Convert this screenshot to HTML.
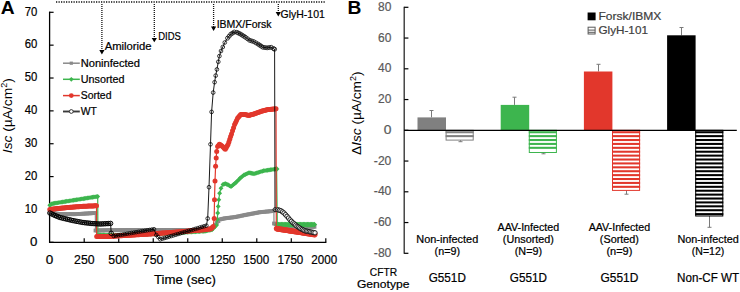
<!DOCTYPE html>
<html><head><meta charset="utf-8"><style>
html,body{margin:0;padding:0;background:#fff;}
body{width:740px;height:292px;overflow:hidden;}
svg{display:block;font-family:"Liberation Sans", sans-serif;}
</style></head><body>
<svg width="740" height="292" viewBox="0 0 740 292" font-family='"Liberation Sans", sans-serif'>
<rect width="740" height="292" fill="#fff"/>
<text x="0.75" y="13.90" font-size="18.2" fill="#000" font-weight="bold" font-style="normal" text-anchor="start" stroke="#000" stroke-width="0" textLength="13.90" lengthAdjust="spacingAndGlyphs">A</text>
<line x1="49.6" y1="11.6" x2="49.6" y2="242.9" stroke="#000" stroke-width="1.3"/>
<line x1="49.0" y1="242.3" x2="326.4" y2="242.3" stroke="#000" stroke-width="1.3"/>
<line x1="49.6" y1="242.30" x2="53.6" y2="242.30" stroke="#000" stroke-width="1.2"/>
<text x="29.95" y="245.60" font-size="12.4" fill="#000" font-weight="normal" font-style="normal" text-anchor="start" stroke="#000" stroke-width="0.2" textLength="7.40" lengthAdjust="spacingAndGlyphs">0</text>
<line x1="49.6" y1="209.44" x2="53.6" y2="209.44" stroke="#000" stroke-width="1.2"/>
<text x="24.75" y="212.74" font-size="12.4" fill="#000" font-weight="normal" font-style="normal" text-anchor="start" stroke="#000" stroke-width="0.2" textLength="12.60" lengthAdjust="spacingAndGlyphs">10</text>
<line x1="49.6" y1="176.59" x2="53.6" y2="176.59" stroke="#000" stroke-width="1.2"/>
<text x="24.75" y="179.89" font-size="12.4" fill="#000" font-weight="normal" font-style="normal" text-anchor="start" stroke="#000" stroke-width="0.2" textLength="12.60" lengthAdjust="spacingAndGlyphs">20</text>
<line x1="49.6" y1="143.73" x2="53.6" y2="143.73" stroke="#000" stroke-width="1.2"/>
<text x="24.75" y="147.03" font-size="12.4" fill="#000" font-weight="normal" font-style="normal" text-anchor="start" stroke="#000" stroke-width="0.2" textLength="12.60" lengthAdjust="spacingAndGlyphs">30</text>
<line x1="49.6" y1="110.87" x2="53.6" y2="110.87" stroke="#000" stroke-width="1.2"/>
<text x="24.75" y="114.17" font-size="12.4" fill="#000" font-weight="normal" font-style="normal" text-anchor="start" stroke="#000" stroke-width="0.2" textLength="12.60" lengthAdjust="spacingAndGlyphs">40</text>
<line x1="49.6" y1="78.02" x2="53.6" y2="78.02" stroke="#000" stroke-width="1.2"/>
<text x="24.75" y="81.32" font-size="12.4" fill="#000" font-weight="normal" font-style="normal" text-anchor="start" stroke="#000" stroke-width="0.2" textLength="12.60" lengthAdjust="spacingAndGlyphs">50</text>
<line x1="49.6" y1="45.16" x2="53.6" y2="45.16" stroke="#000" stroke-width="1.2"/>
<text x="24.75" y="48.46" font-size="12.4" fill="#000" font-weight="normal" font-style="normal" text-anchor="start" stroke="#000" stroke-width="0.2" textLength="12.60" lengthAdjust="spacingAndGlyphs">60</text>
<line x1="49.6" y1="12.30" x2="53.6" y2="12.30" stroke="#000" stroke-width="1.2"/>
<text x="24.75" y="15.60" font-size="12.4" fill="#000" font-weight="normal" font-style="normal" text-anchor="start" stroke="#000" stroke-width="0.2" textLength="12.60" lengthAdjust="spacingAndGlyphs">70</text>
<text x="45.75" y="263.70" font-size="12.3" fill="#000" font-weight="normal" font-style="normal" text-anchor="start" stroke="#000" stroke-width="0.2" textLength="7.50" lengthAdjust="spacingAndGlyphs">0</text>
<line x1="84.21" y1="238.3" x2="84.21" y2="242.3" stroke="#000" stroke-width="1.2"/>
<text x="74.10" y="263.70" font-size="12.3" fill="#000" font-weight="normal" font-style="normal" text-anchor="start" stroke="#000" stroke-width="0.2" textLength="20.50" lengthAdjust="spacingAndGlyphs">250</text>
<line x1="118.73" y1="238.3" x2="118.73" y2="242.3" stroke="#000" stroke-width="1.2"/>
<text x="108.35" y="263.70" font-size="12.3" fill="#000" font-weight="normal" font-style="normal" text-anchor="start" stroke="#000" stroke-width="0.2" textLength="20.50" lengthAdjust="spacingAndGlyphs">500</text>
<line x1="153.24" y1="238.3" x2="153.24" y2="242.3" stroke="#000" stroke-width="1.2"/>
<text x="142.85" y="263.70" font-size="12.3" fill="#000" font-weight="normal" font-style="normal" text-anchor="start" stroke="#000" stroke-width="0.2" textLength="20.50" lengthAdjust="spacingAndGlyphs">750</text>
<line x1="187.75" y1="238.3" x2="187.75" y2="242.3" stroke="#000" stroke-width="1.2"/>
<text x="174.35" y="263.70" font-size="12.3" fill="#000" font-weight="normal" font-style="normal" text-anchor="start" stroke="#000" stroke-width="0.2" textLength="25.90" lengthAdjust="spacingAndGlyphs">1000</text>
<line x1="222.26" y1="238.3" x2="222.26" y2="242.3" stroke="#000" stroke-width="1.2"/>
<text x="209.45" y="263.70" font-size="12.3" fill="#000" font-weight="normal" font-style="normal" text-anchor="start" stroke="#000" stroke-width="0.2" textLength="25.90" lengthAdjust="spacingAndGlyphs">1250</text>
<line x1="256.78" y1="238.3" x2="256.78" y2="242.3" stroke="#000" stroke-width="1.2"/>
<text x="243.25" y="263.70" font-size="12.3" fill="#000" font-weight="normal" font-style="normal" text-anchor="start" stroke="#000" stroke-width="0.2" textLength="25.90" lengthAdjust="spacingAndGlyphs">1500</text>
<line x1="291.29" y1="238.3" x2="291.29" y2="242.3" stroke="#000" stroke-width="1.2"/>
<text x="277.45" y="263.70" font-size="12.3" fill="#000" font-weight="normal" font-style="normal" text-anchor="start" stroke="#000" stroke-width="0.2" textLength="25.90" lengthAdjust="spacingAndGlyphs">1750</text>
<line x1="325.80" y1="238.3" x2="325.80" y2="242.3" stroke="#000" stroke-width="1.2"/>
<text x="311.25" y="263.70" font-size="12.3" fill="#000" font-weight="normal" font-style="normal" text-anchor="start" stroke="#000" stroke-width="0.2" textLength="25.90" lengthAdjust="spacingAndGlyphs">2000</text>
<text x="154.00" y="283.80" font-size="12.5" fill="#000" font-weight="normal" font-style="normal" text-anchor="start" stroke="#000" stroke-width="0.2" textLength="62.00" lengthAdjust="spacingAndGlyphs">Time (sec)</text>
<g transform="translate(11.6,115.6) rotate(-90)"><text x="-37.6" y="0" font-size="13.0" textLength="75" lengthAdjust="spacingAndGlyphs"><tspan font-style="italic">Isc</tspan> (µA/cm<tspan font-size="8.5" dy="-4.5">2</tspan><tspan dy="4.5">)</tspan></text></g>
<line x1="56" y1="2.0" x2="326" y2="2.0" stroke="#111" stroke-width="1.5" stroke-dasharray="1.25 1.25"/>
<line x1="101.9" y1="4" x2="101.9" y2="50.9" stroke="#111" stroke-width="1.3" stroke-dasharray="1.1 0.9"/>
<path d="M99.30000000000001,50.0 L104.5,50.0 L101.9,54.4 Z" fill="#000"/>
<line x1="154.3" y1="4" x2="154.3" y2="38.8" stroke="#111" stroke-width="1.3" stroke-dasharray="1.1 0.9"/>
<path d="M151.70000000000002,37.9 L156.9,37.9 L154.3,42.3 Z" fill="#000"/>
<line x1="213.6" y1="4" x2="213.6" y2="27.5" stroke="#111" stroke-width="1.3" stroke-dasharray="1.1 0.9"/>
<path d="M211.0,26.6 L216.2,26.6 L213.6,31.0 Z" fill="#000"/>
<line x1="278.3" y1="4" x2="278.3" y2="13.0" stroke="#111" stroke-width="1.3" stroke-dasharray="1.1 0.9"/>
<path d="M275.7,12.1 L280.90000000000003,12.1 L278.3,16.5 Z" fill="#000"/>
<text x="104.65" y="50.30" font-size="10.3" fill="#000" font-weight="normal" font-style="normal" text-anchor="start" stroke="#000" stroke-width="0.2" textLength="46.90" lengthAdjust="spacingAndGlyphs">Amiloride</text>
<text x="158.15" y="39.80" font-size="10.3" fill="#000" font-weight="normal" font-style="normal" text-anchor="start" stroke="#000" stroke-width="0.2" textLength="22.70" lengthAdjust="spacingAndGlyphs">DIDS</text>
<text x="216.65" y="27.60" font-size="10.3" fill="#000" font-weight="normal" font-style="normal" text-anchor="start" stroke="#000" stroke-width="0.2" textLength="54.90" lengthAdjust="spacingAndGlyphs">IBMX/Forsk</text>
<text x="280.55" y="17.70" font-size="10.3" fill="#000" font-weight="normal" font-style="normal" text-anchor="start" stroke="#000" stroke-width="0.2" textLength="44.30" lengthAdjust="spacingAndGlyphs">GlyH-101</text>
<line x1="63" y1="63.2" x2="79.8" y2="63.2" stroke="#8a8a8a" stroke-width="1.5"/>
<rect x="69.7" y="61.6" width="3.2" height="3.2" fill="#8a8a8a"/>
<text x="80.75" y="66.70" font-size="10.0" fill="#000" font-weight="normal" font-style="normal" text-anchor="start" stroke="#000" stroke-width="0.2" textLength="59.20" lengthAdjust="spacingAndGlyphs">Noninfected</text>
<line x1="63" y1="79.3" x2="79.8" y2="79.3" stroke="#3db54e" stroke-width="1.5"/>
<path d="M71.3,76.89999999999999 L73.7,79.3 L71.3,81.7 L68.89999999999999,79.3 Z" fill="#3db54e"/>
<text x="80.75" y="82.80" font-size="10.0" fill="#000" font-weight="normal" font-style="normal" text-anchor="start" stroke="#000" stroke-width="0.2" textLength="43.80" lengthAdjust="spacingAndGlyphs">Unsorted</text>
<line x1="63" y1="95.6" x2="79.8" y2="95.6" stroke="#e2372c" stroke-width="1.5"/>
<circle cx="71.3" cy="95.6" r="2.4" fill="#e2372c"/>
<text x="80.75" y="99.10" font-size="10.0" fill="#000" font-weight="normal" font-style="normal" text-anchor="start" stroke="#000" stroke-width="0.2" textLength="30.70" lengthAdjust="spacingAndGlyphs">Sorted</text>
<line x1="63" y1="111.5" x2="79.8" y2="111.5" stroke="#3a3a3a" stroke-width="1.9"/>
<circle cx="71.3" cy="111.5" r="1.9" fill="#fff" stroke="#222" stroke-width="0.9"/>
<text x="80.75" y="115.00" font-size="10.0" fill="#000" font-weight="normal" font-style="normal" text-anchor="start" stroke="#000" stroke-width="0.2" textLength="16.10" lengthAdjust="spacingAndGlyphs">WT</text>
<polyline points="49.80,212.50 60.00,214.10 75.00,214.20 95.30,213.00 95.50,230.50 110.00,230.20 140.00,230.00 205.00,230.00 212.00,228.50 215.30,224.70 220.00,219.40 225.00,218.30 235.00,217.10 245.00,215.00 260.00,212.20 273.90,210.90 274.00,223.50 280.00,226.30 314.50,226.80" fill="none" stroke="#8a8a8a" stroke-width="1.2" stroke-linejoin="round"/>
<rect x="47.90" y="210.60" width="3.8" height="3.8" fill="#8a8a8a"/>
<rect x="49.36" y="210.83" width="3.8" height="3.8" fill="#8a8a8a"/>
<rect x="50.81" y="211.06" width="3.8" height="3.8" fill="#8a8a8a"/>
<rect x="52.27" y="211.29" width="3.8" height="3.8" fill="#8a8a8a"/>
<rect x="53.73" y="211.51" width="3.8" height="3.8" fill="#8a8a8a"/>
<rect x="55.19" y="211.74" width="3.8" height="3.8" fill="#8a8a8a"/>
<rect x="56.64" y="211.97" width="3.8" height="3.8" fill="#8a8a8a"/>
<rect x="58.10" y="212.20" width="3.8" height="3.8" fill="#8a8a8a"/>
<rect x="59.46" y="212.21" width="3.8" height="3.8" fill="#8a8a8a"/>
<rect x="60.83" y="212.22" width="3.8" height="3.8" fill="#8a8a8a"/>
<rect x="62.19" y="212.23" width="3.8" height="3.8" fill="#8a8a8a"/>
<rect x="63.55" y="212.24" width="3.8" height="3.8" fill="#8a8a8a"/>
<rect x="64.92" y="212.25" width="3.8" height="3.8" fill="#8a8a8a"/>
<rect x="66.28" y="212.25" width="3.8" height="3.8" fill="#8a8a8a"/>
<rect x="67.65" y="212.26" width="3.8" height="3.8" fill="#8a8a8a"/>
<rect x="69.01" y="212.27" width="3.8" height="3.8" fill="#8a8a8a"/>
<rect x="70.37" y="212.28" width="3.8" height="3.8" fill="#8a8a8a"/>
<rect x="71.74" y="212.29" width="3.8" height="3.8" fill="#8a8a8a"/>
<rect x="73.10" y="212.30" width="3.8" height="3.8" fill="#8a8a8a"/>
<rect x="74.45" y="212.22" width="3.8" height="3.8" fill="#8a8a8a"/>
<rect x="75.81" y="212.14" width="3.8" height="3.8" fill="#8a8a8a"/>
<rect x="77.16" y="212.06" width="3.8" height="3.8" fill="#8a8a8a"/>
<rect x="78.51" y="211.98" width="3.8" height="3.8" fill="#8a8a8a"/>
<rect x="79.87" y="211.90" width="3.8" height="3.8" fill="#8a8a8a"/>
<rect x="81.22" y="211.82" width="3.8" height="3.8" fill="#8a8a8a"/>
<rect x="82.57" y="211.74" width="3.8" height="3.8" fill="#8a8a8a"/>
<rect x="83.93" y="211.66" width="3.8" height="3.8" fill="#8a8a8a"/>
<rect x="85.28" y="211.58" width="3.8" height="3.8" fill="#8a8a8a"/>
<rect x="86.63" y="211.50" width="3.8" height="3.8" fill="#8a8a8a"/>
<rect x="87.99" y="211.42" width="3.8" height="3.8" fill="#8a8a8a"/>
<rect x="89.34" y="211.34" width="3.8" height="3.8" fill="#8a8a8a"/>
<rect x="90.69" y="211.26" width="3.8" height="3.8" fill="#8a8a8a"/>
<rect x="92.05" y="211.18" width="3.8" height="3.8" fill="#8a8a8a"/>
<rect x="93.40" y="211.10" width="3.8" height="3.8" fill="#8a8a8a"/>
<rect x="93.60" y="228.60" width="3.8" height="3.8" fill="#8a8a8a"/>
<rect x="94.92" y="228.57" width="3.8" height="3.8" fill="#8a8a8a"/>
<rect x="96.24" y="228.55" width="3.8" height="3.8" fill="#8a8a8a"/>
<rect x="97.55" y="228.52" width="3.8" height="3.8" fill="#8a8a8a"/>
<rect x="98.87" y="228.49" width="3.8" height="3.8" fill="#8a8a8a"/>
<rect x="100.19" y="228.46" width="3.8" height="3.8" fill="#8a8a8a"/>
<rect x="101.51" y="228.44" width="3.8" height="3.8" fill="#8a8a8a"/>
<rect x="102.83" y="228.41" width="3.8" height="3.8" fill="#8a8a8a"/>
<rect x="104.15" y="228.38" width="3.8" height="3.8" fill="#8a8a8a"/>
<rect x="105.46" y="228.35" width="3.8" height="3.8" fill="#8a8a8a"/>
<rect x="106.78" y="228.33" width="3.8" height="3.8" fill="#8a8a8a"/>
<rect x="108.10" y="228.30" width="3.8" height="3.8" fill="#8a8a8a"/>
<rect x="109.46" y="228.29" width="3.8" height="3.8" fill="#8a8a8a"/>
<rect x="110.83" y="228.28" width="3.8" height="3.8" fill="#8a8a8a"/>
<rect x="112.19" y="228.27" width="3.8" height="3.8" fill="#8a8a8a"/>
<rect x="113.55" y="228.26" width="3.8" height="3.8" fill="#8a8a8a"/>
<rect x="114.92" y="228.25" width="3.8" height="3.8" fill="#8a8a8a"/>
<rect x="116.28" y="228.25" width="3.8" height="3.8" fill="#8a8a8a"/>
<rect x="117.65" y="228.24" width="3.8" height="3.8" fill="#8a8a8a"/>
<rect x="119.01" y="228.23" width="3.8" height="3.8" fill="#8a8a8a"/>
<rect x="120.37" y="228.22" width="3.8" height="3.8" fill="#8a8a8a"/>
<rect x="121.74" y="228.21" width="3.8" height="3.8" fill="#8a8a8a"/>
<rect x="123.10" y="228.20" width="3.8" height="3.8" fill="#8a8a8a"/>
<rect x="124.46" y="228.19" width="3.8" height="3.8" fill="#8a8a8a"/>
<rect x="125.83" y="228.18" width="3.8" height="3.8" fill="#8a8a8a"/>
<rect x="127.19" y="228.17" width="3.8" height="3.8" fill="#8a8a8a"/>
<rect x="128.55" y="228.16" width="3.8" height="3.8" fill="#8a8a8a"/>
<rect x="129.92" y="228.15" width="3.8" height="3.8" fill="#8a8a8a"/>
<rect x="131.28" y="228.15" width="3.8" height="3.8" fill="#8a8a8a"/>
<rect x="132.65" y="228.14" width="3.8" height="3.8" fill="#8a8a8a"/>
<rect x="134.01" y="228.13" width="3.8" height="3.8" fill="#8a8a8a"/>
<rect x="135.37" y="228.12" width="3.8" height="3.8" fill="#8a8a8a"/>
<rect x="136.74" y="228.11" width="3.8" height="3.8" fill="#8a8a8a"/>
<rect x="138.10" y="228.10" width="3.8" height="3.8" fill="#8a8a8a"/>
<rect x="139.48" y="228.10" width="3.8" height="3.8" fill="#8a8a8a"/>
<rect x="140.87" y="228.10" width="3.8" height="3.8" fill="#8a8a8a"/>
<rect x="142.25" y="228.10" width="3.8" height="3.8" fill="#8a8a8a"/>
<rect x="143.63" y="228.10" width="3.8" height="3.8" fill="#8a8a8a"/>
<rect x="145.01" y="228.10" width="3.8" height="3.8" fill="#8a8a8a"/>
<rect x="146.40" y="228.10" width="3.8" height="3.8" fill="#8a8a8a"/>
<rect x="147.78" y="228.10" width="3.8" height="3.8" fill="#8a8a8a"/>
<rect x="149.16" y="228.10" width="3.8" height="3.8" fill="#8a8a8a"/>
<rect x="150.55" y="228.10" width="3.8" height="3.8" fill="#8a8a8a"/>
<rect x="151.93" y="228.10" width="3.8" height="3.8" fill="#8a8a8a"/>
<rect x="153.31" y="228.10" width="3.8" height="3.8" fill="#8a8a8a"/>
<rect x="154.70" y="228.10" width="3.8" height="3.8" fill="#8a8a8a"/>
<rect x="156.08" y="228.10" width="3.8" height="3.8" fill="#8a8a8a"/>
<rect x="157.46" y="228.10" width="3.8" height="3.8" fill="#8a8a8a"/>
<rect x="158.84" y="228.10" width="3.8" height="3.8" fill="#8a8a8a"/>
<rect x="160.23" y="228.10" width="3.8" height="3.8" fill="#8a8a8a"/>
<rect x="161.61" y="228.10" width="3.8" height="3.8" fill="#8a8a8a"/>
<rect x="162.99" y="228.10" width="3.8" height="3.8" fill="#8a8a8a"/>
<rect x="164.38" y="228.10" width="3.8" height="3.8" fill="#8a8a8a"/>
<rect x="165.76" y="228.10" width="3.8" height="3.8" fill="#8a8a8a"/>
<rect x="167.14" y="228.10" width="3.8" height="3.8" fill="#8a8a8a"/>
<rect x="168.53" y="228.10" width="3.8" height="3.8" fill="#8a8a8a"/>
<rect x="169.91" y="228.10" width="3.8" height="3.8" fill="#8a8a8a"/>
<rect x="171.29" y="228.10" width="3.8" height="3.8" fill="#8a8a8a"/>
<rect x="172.67" y="228.10" width="3.8" height="3.8" fill="#8a8a8a"/>
<rect x="174.06" y="228.10" width="3.8" height="3.8" fill="#8a8a8a"/>
<rect x="175.44" y="228.10" width="3.8" height="3.8" fill="#8a8a8a"/>
<rect x="176.82" y="228.10" width="3.8" height="3.8" fill="#8a8a8a"/>
<rect x="178.21" y="228.10" width="3.8" height="3.8" fill="#8a8a8a"/>
<rect x="179.59" y="228.10" width="3.8" height="3.8" fill="#8a8a8a"/>
<rect x="180.97" y="228.10" width="3.8" height="3.8" fill="#8a8a8a"/>
<rect x="182.36" y="228.10" width="3.8" height="3.8" fill="#8a8a8a"/>
<rect x="183.74" y="228.10" width="3.8" height="3.8" fill="#8a8a8a"/>
<rect x="185.12" y="228.10" width="3.8" height="3.8" fill="#8a8a8a"/>
<rect x="186.50" y="228.10" width="3.8" height="3.8" fill="#8a8a8a"/>
<rect x="187.89" y="228.10" width="3.8" height="3.8" fill="#8a8a8a"/>
<rect x="189.27" y="228.10" width="3.8" height="3.8" fill="#8a8a8a"/>
<rect x="190.65" y="228.10" width="3.8" height="3.8" fill="#8a8a8a"/>
<rect x="192.04" y="228.10" width="3.8" height="3.8" fill="#8a8a8a"/>
<rect x="193.42" y="228.10" width="3.8" height="3.8" fill="#8a8a8a"/>
<rect x="194.80" y="228.10" width="3.8" height="3.8" fill="#8a8a8a"/>
<rect x="196.19" y="228.10" width="3.8" height="3.8" fill="#8a8a8a"/>
<rect x="197.57" y="228.10" width="3.8" height="3.8" fill="#8a8a8a"/>
<rect x="198.95" y="228.10" width="3.8" height="3.8" fill="#8a8a8a"/>
<rect x="200.33" y="228.10" width="3.8" height="3.8" fill="#8a8a8a"/>
<rect x="201.72" y="228.10" width="3.8" height="3.8" fill="#8a8a8a"/>
<rect x="203.10" y="228.10" width="3.8" height="3.8" fill="#8a8a8a"/>
<rect x="204.50" y="227.80" width="3.8" height="3.8" fill="#8a8a8a"/>
<rect x="205.90" y="227.50" width="3.8" height="3.8" fill="#8a8a8a"/>
<rect x="207.30" y="227.20" width="3.8" height="3.8" fill="#8a8a8a"/>
<rect x="208.70" y="226.90" width="3.8" height="3.8" fill="#8a8a8a"/>
<rect x="210.10" y="226.60" width="3.8" height="3.8" fill="#8a8a8a"/>
<rect x="211.75" y="224.70" width="3.8" height="3.8" fill="#8a8a8a"/>
<rect x="213.40" y="222.80" width="3.8" height="3.8" fill="#8a8a8a"/>
<rect x="214.97" y="221.03" width="3.8" height="3.8" fill="#8a8a8a"/>
<rect x="216.53" y="219.27" width="3.8" height="3.8" fill="#8a8a8a"/>
<rect x="218.10" y="217.50" width="3.8" height="3.8" fill="#8a8a8a"/>
<rect x="219.35" y="217.22" width="3.8" height="3.8" fill="#8a8a8a"/>
<rect x="220.60" y="216.95" width="3.8" height="3.8" fill="#8a8a8a"/>
<rect x="221.85" y="216.68" width="3.8" height="3.8" fill="#8a8a8a"/>
<rect x="223.10" y="216.40" width="3.8" height="3.8" fill="#8a8a8a"/>
<rect x="224.53" y="216.23" width="3.8" height="3.8" fill="#8a8a8a"/>
<rect x="225.96" y="216.06" width="3.8" height="3.8" fill="#8a8a8a"/>
<rect x="227.39" y="215.89" width="3.8" height="3.8" fill="#8a8a8a"/>
<rect x="228.81" y="215.71" width="3.8" height="3.8" fill="#8a8a8a"/>
<rect x="230.24" y="215.54" width="3.8" height="3.8" fill="#8a8a8a"/>
<rect x="231.67" y="215.37" width="3.8" height="3.8" fill="#8a8a8a"/>
<rect x="233.10" y="215.20" width="3.8" height="3.8" fill="#8a8a8a"/>
<rect x="234.53" y="214.90" width="3.8" height="3.8" fill="#8a8a8a"/>
<rect x="235.96" y="214.60" width="3.8" height="3.8" fill="#8a8a8a"/>
<rect x="237.39" y="214.30" width="3.8" height="3.8" fill="#8a8a8a"/>
<rect x="238.81" y="214.00" width="3.8" height="3.8" fill="#8a8a8a"/>
<rect x="240.24" y="213.70" width="3.8" height="3.8" fill="#8a8a8a"/>
<rect x="241.67" y="213.40" width="3.8" height="3.8" fill="#8a8a8a"/>
<rect x="243.10" y="213.10" width="3.8" height="3.8" fill="#8a8a8a"/>
<rect x="244.46" y="212.85" width="3.8" height="3.8" fill="#8a8a8a"/>
<rect x="245.83" y="212.59" width="3.8" height="3.8" fill="#8a8a8a"/>
<rect x="247.19" y="212.34" width="3.8" height="3.8" fill="#8a8a8a"/>
<rect x="248.55" y="212.08" width="3.8" height="3.8" fill="#8a8a8a"/>
<rect x="249.92" y="211.83" width="3.8" height="3.8" fill="#8a8a8a"/>
<rect x="251.28" y="211.57" width="3.8" height="3.8" fill="#8a8a8a"/>
<rect x="252.65" y="211.32" width="3.8" height="3.8" fill="#8a8a8a"/>
<rect x="254.01" y="211.06" width="3.8" height="3.8" fill="#8a8a8a"/>
<rect x="255.37" y="210.81" width="3.8" height="3.8" fill="#8a8a8a"/>
<rect x="256.74" y="210.55" width="3.8" height="3.8" fill="#8a8a8a"/>
<rect x="258.10" y="210.30" width="3.8" height="3.8" fill="#8a8a8a"/>
<rect x="259.49" y="210.17" width="3.8" height="3.8" fill="#8a8a8a"/>
<rect x="260.88" y="210.04" width="3.8" height="3.8" fill="#8a8a8a"/>
<rect x="262.27" y="209.91" width="3.8" height="3.8" fill="#8a8a8a"/>
<rect x="263.66" y="209.78" width="3.8" height="3.8" fill="#8a8a8a"/>
<rect x="265.05" y="209.65" width="3.8" height="3.8" fill="#8a8a8a"/>
<rect x="266.44" y="209.52" width="3.8" height="3.8" fill="#8a8a8a"/>
<rect x="267.83" y="209.39" width="3.8" height="3.8" fill="#8a8a8a"/>
<rect x="269.22" y="209.26" width="3.8" height="3.8" fill="#8a8a8a"/>
<rect x="270.61" y="209.13" width="3.8" height="3.8" fill="#8a8a8a"/>
<rect x="272.00" y="209.00" width="3.8" height="3.8" fill="#8a8a8a"/>
<rect x="272.10" y="221.60" width="3.8" height="3.8" fill="#8a8a8a"/>
<rect x="273.60" y="222.30" width="3.8" height="3.8" fill="#8a8a8a"/>
<rect x="275.10" y="223.00" width="3.8" height="3.8" fill="#8a8a8a"/>
<rect x="276.60" y="223.70" width="3.8" height="3.8" fill="#8a8a8a"/>
<rect x="278.10" y="224.40" width="3.8" height="3.8" fill="#8a8a8a"/>
<rect x="279.48" y="224.42" width="3.8" height="3.8" fill="#8a8a8a"/>
<rect x="280.86" y="224.44" width="3.8" height="3.8" fill="#8a8a8a"/>
<rect x="282.24" y="224.46" width="3.8" height="3.8" fill="#8a8a8a"/>
<rect x="283.62" y="224.48" width="3.8" height="3.8" fill="#8a8a8a"/>
<rect x="285.00" y="224.50" width="3.8" height="3.8" fill="#8a8a8a"/>
<rect x="286.38" y="224.52" width="3.8" height="3.8" fill="#8a8a8a"/>
<rect x="287.76" y="224.54" width="3.8" height="3.8" fill="#8a8a8a"/>
<rect x="289.14" y="224.56" width="3.8" height="3.8" fill="#8a8a8a"/>
<rect x="290.52" y="224.58" width="3.8" height="3.8" fill="#8a8a8a"/>
<rect x="291.90" y="224.60" width="3.8" height="3.8" fill="#8a8a8a"/>
<rect x="293.28" y="224.62" width="3.8" height="3.8" fill="#8a8a8a"/>
<rect x="294.66" y="224.64" width="3.8" height="3.8" fill="#8a8a8a"/>
<rect x="296.04" y="224.66" width="3.8" height="3.8" fill="#8a8a8a"/>
<rect x="297.42" y="224.68" width="3.8" height="3.8" fill="#8a8a8a"/>
<rect x="298.80" y="224.70" width="3.8" height="3.8" fill="#8a8a8a"/>
<rect x="300.18" y="224.72" width="3.8" height="3.8" fill="#8a8a8a"/>
<rect x="301.56" y="224.74" width="3.8" height="3.8" fill="#8a8a8a"/>
<rect x="302.94" y="224.76" width="3.8" height="3.8" fill="#8a8a8a"/>
<rect x="304.32" y="224.78" width="3.8" height="3.8" fill="#8a8a8a"/>
<rect x="305.70" y="224.80" width="3.8" height="3.8" fill="#8a8a8a"/>
<rect x="307.08" y="224.82" width="3.8" height="3.8" fill="#8a8a8a"/>
<rect x="308.46" y="224.84" width="3.8" height="3.8" fill="#8a8a8a"/>
<rect x="309.84" y="224.86" width="3.8" height="3.8" fill="#8a8a8a"/>
<rect x="311.22" y="224.88" width="3.8" height="3.8" fill="#8a8a8a"/>
<rect x="312.60" y="224.90" width="3.8" height="3.8" fill="#8a8a8a"/>
<polyline points="49.80,205.20 52.00,203.70 60.00,202.40 75.00,200.00 90.00,197.60 97.70,196.50 97.90,235.00 120.00,235.20 160.00,233.80 205.00,231.20 212.00,229.80 216.40,225.20 217.30,219.50 217.70,213.00 218.20,206.40 218.80,199.80 219.60,193.20 221.00,188.20 223.00,184.50 225.50,183.60 228.00,184.80 231.00,186.60 236.00,182.50 240.00,178.30 244.00,175.00 249.00,172.80 254.00,173.80 263.60,170.80 274.40,169.20 276.60,169.00 277.30,224.60 314.30,224.60" fill="none" stroke="#3db54e" stroke-width="1.2" stroke-linejoin="round"/>
<path d="M49.80,202.76L52.24,205.20L49.80,207.64L47.36,205.20Z" fill="#3db54e"/>
<path d="M50.90,202.01L53.34,204.45L50.90,206.89L48.46,204.45Z" fill="#3db54e"/>
<path d="M52.00,201.26L54.44,203.70L52.00,206.14L49.56,203.70Z" fill="#3db54e"/>
<path d="M53.33,201.05L55.77,203.48L53.33,205.92L50.90,203.48Z" fill="#3db54e"/>
<path d="M54.67,200.83L57.10,203.27L54.67,205.70L52.23,203.27Z" fill="#3db54e"/>
<path d="M56.00,200.61L58.44,203.05L56.00,205.49L53.56,203.05Z" fill="#3db54e"/>
<path d="M57.33,200.40L59.77,202.83L57.33,205.27L54.90,202.83Z" fill="#3db54e"/>
<path d="M58.67,200.18L61.10,202.62L58.67,205.05L56.23,202.62Z" fill="#3db54e"/>
<path d="M60.00,199.96L62.44,202.40L60.00,204.84L57.56,202.40Z" fill="#3db54e"/>
<path d="M61.36,199.74L63.80,202.18L61.36,204.62L58.93,202.18Z" fill="#3db54e"/>
<path d="M62.73,199.53L65.16,201.96L62.73,204.40L60.29,201.96Z" fill="#3db54e"/>
<path d="M64.09,199.31L66.53,201.75L64.09,204.18L61.65,201.75Z" fill="#3db54e"/>
<path d="M65.45,199.09L67.89,201.53L65.45,203.96L63.02,201.53Z" fill="#3db54e"/>
<path d="M66.82,198.87L69.26,201.31L66.82,203.75L64.38,201.31Z" fill="#3db54e"/>
<path d="M68.18,198.65L70.62,201.09L68.18,203.53L65.74,201.09Z" fill="#3db54e"/>
<path d="M69.55,198.44L71.98,200.87L69.55,203.31L67.11,200.87Z" fill="#3db54e"/>
<path d="M70.91,198.22L73.35,200.65L70.91,203.09L68.47,200.65Z" fill="#3db54e"/>
<path d="M72.27,198.00L74.71,200.44L72.27,202.87L69.84,200.44Z" fill="#3db54e"/>
<path d="M73.64,197.78L76.07,200.22L73.64,202.66L71.20,200.22Z" fill="#3db54e"/>
<path d="M75.00,197.56L77.44,200.00L75.00,202.44L72.56,200.00Z" fill="#3db54e"/>
<path d="M76.36,197.34L78.80,199.78L76.36,202.22L73.93,199.78Z" fill="#3db54e"/>
<path d="M77.73,197.13L80.16,199.56L77.73,202.00L75.29,199.56Z" fill="#3db54e"/>
<path d="M79.09,196.91L81.53,199.35L79.09,201.78L76.65,199.35Z" fill="#3db54e"/>
<path d="M80.45,196.69L82.89,199.13L80.45,201.56L78.02,199.13Z" fill="#3db54e"/>
<path d="M81.82,196.47L84.26,198.91L81.82,201.35L79.38,198.91Z" fill="#3db54e"/>
<path d="M83.18,196.25L85.62,198.69L83.18,201.13L80.74,198.69Z" fill="#3db54e"/>
<path d="M84.55,196.04L86.98,198.47L84.55,200.91L82.11,198.47Z" fill="#3db54e"/>
<path d="M85.91,195.82L88.35,198.25L85.91,200.69L83.47,198.25Z" fill="#3db54e"/>
<path d="M87.27,195.60L89.71,198.04L87.27,200.47L84.84,198.04Z" fill="#3db54e"/>
<path d="M88.64,195.38L91.07,197.82L88.64,200.26L86.20,197.82Z" fill="#3db54e"/>
<path d="M90.00,195.16L92.44,197.60L90.00,200.04L87.56,197.60Z" fill="#3db54e"/>
<path d="M91.28,194.98L93.72,197.42L91.28,199.85L88.85,197.42Z" fill="#3db54e"/>
<path d="M92.57,194.80L95.00,197.23L92.57,199.67L90.13,197.23Z" fill="#3db54e"/>
<path d="M93.85,194.61L96.29,197.05L93.85,199.49L91.41,197.05Z" fill="#3db54e"/>
<path d="M95.13,194.43L97.57,196.87L95.13,199.30L92.70,196.87Z" fill="#3db54e"/>
<path d="M96.42,194.25L98.85,196.68L96.42,199.12L93.98,196.68Z" fill="#3db54e"/>
<path d="M97.70,194.06L100.14,196.50L97.70,198.94L95.26,196.50Z" fill="#3db54e"/>
<path d="M97.90,232.56L100.34,235.00L97.90,237.44L95.46,235.00Z" fill="#3db54e"/>
<path d="M99.28,232.57L101.72,235.01L99.28,237.45L96.84,235.01Z" fill="#3db54e"/>
<path d="M100.66,232.59L103.10,235.03L100.66,237.46L98.23,235.03Z" fill="#3db54e"/>
<path d="M102.04,232.60L104.48,235.04L102.04,237.47L99.61,235.04Z" fill="#3db54e"/>
<path d="M103.43,232.61L105.86,235.05L103.43,237.49L100.99,235.05Z" fill="#3db54e"/>
<path d="M104.81,232.62L107.24,235.06L104.81,237.50L102.37,235.06Z" fill="#3db54e"/>
<path d="M106.19,232.64L108.62,235.07L106.19,237.51L103.75,235.07Z" fill="#3db54e"/>
<path d="M107.57,232.65L110.01,235.09L107.57,237.53L105.13,235.09Z" fill="#3db54e"/>
<path d="M108.95,232.66L111.39,235.10L108.95,237.54L106.51,235.10Z" fill="#3db54e"/>
<path d="M110.33,232.67L112.77,235.11L110.33,237.55L107.89,235.11Z" fill="#3db54e"/>
<path d="M111.71,232.69L114.15,235.12L111.71,237.56L109.28,235.12Z" fill="#3db54e"/>
<path d="M113.09,232.70L115.53,235.14L113.09,237.57L110.66,235.14Z" fill="#3db54e"/>
<path d="M114.47,232.71L116.91,235.15L114.47,237.59L112.04,235.15Z" fill="#3db54e"/>
<path d="M115.86,232.72L118.29,235.16L115.86,237.60L113.42,235.16Z" fill="#3db54e"/>
<path d="M117.24,232.74L119.67,235.17L117.24,237.61L114.80,235.17Z" fill="#3db54e"/>
<path d="M118.62,232.75L121.06,235.19L118.62,237.62L116.18,235.19Z" fill="#3db54e"/>
<path d="M120.00,232.76L122.44,235.20L120.00,237.64L117.56,235.20Z" fill="#3db54e"/>
<path d="M121.38,232.71L123.82,235.15L121.38,237.59L118.94,235.15Z" fill="#3db54e"/>
<path d="M122.76,232.67L125.20,235.10L122.76,237.54L120.32,235.10Z" fill="#3db54e"/>
<path d="M124.14,232.62L126.58,235.06L124.14,237.49L121.70,235.06Z" fill="#3db54e"/>
<path d="M125.52,232.57L127.95,235.01L125.52,237.44L123.08,235.01Z" fill="#3db54e"/>
<path d="M126.90,232.52L129.33,234.96L126.90,237.40L124.46,234.96Z" fill="#3db54e"/>
<path d="M128.28,232.47L130.71,234.91L128.28,237.35L125.84,234.91Z" fill="#3db54e"/>
<path d="M129.66,232.42L132.09,234.86L129.66,237.30L127.22,234.86Z" fill="#3db54e"/>
<path d="M131.03,232.38L133.47,234.81L131.03,237.25L128.60,234.81Z" fill="#3db54e"/>
<path d="M132.41,232.33L134.85,234.77L132.41,237.20L129.98,234.77Z" fill="#3db54e"/>
<path d="M133.79,232.28L136.23,234.72L133.79,237.15L131.36,234.72Z" fill="#3db54e"/>
<path d="M135.17,232.23L137.61,234.67L135.17,237.11L132.73,234.67Z" fill="#3db54e"/>
<path d="M136.55,232.18L138.99,234.62L136.55,237.06L134.11,234.62Z" fill="#3db54e"/>
<path d="M137.93,232.13L140.37,234.57L137.93,237.01L135.49,234.57Z" fill="#3db54e"/>
<path d="M139.31,232.09L141.75,234.52L139.31,236.96L136.87,234.52Z" fill="#3db54e"/>
<path d="M140.69,232.04L143.13,234.48L140.69,236.91L138.25,234.48Z" fill="#3db54e"/>
<path d="M142.07,231.99L144.51,234.43L142.07,236.87L139.63,234.43Z" fill="#3db54e"/>
<path d="M143.45,231.94L145.89,234.38L143.45,236.82L141.01,234.38Z" fill="#3db54e"/>
<path d="M144.83,231.89L147.27,234.33L144.83,236.77L142.39,234.33Z" fill="#3db54e"/>
<path d="M146.21,231.85L148.64,234.28L146.21,236.72L143.77,234.28Z" fill="#3db54e"/>
<path d="M147.59,231.80L150.02,234.23L147.59,236.67L145.15,234.23Z" fill="#3db54e"/>
<path d="M148.97,231.75L151.40,234.19L148.97,236.62L146.53,234.19Z" fill="#3db54e"/>
<path d="M150.34,231.70L152.78,234.14L150.34,236.58L147.91,234.14Z" fill="#3db54e"/>
<path d="M151.72,231.65L154.16,234.09L151.72,236.53L149.29,234.09Z" fill="#3db54e"/>
<path d="M153.10,231.60L155.54,234.04L153.10,236.48L150.67,234.04Z" fill="#3db54e"/>
<path d="M154.48,231.56L156.92,233.99L154.48,236.43L152.05,233.99Z" fill="#3db54e"/>
<path d="M155.86,231.51L158.30,233.94L155.86,236.38L153.42,233.94Z" fill="#3db54e"/>
<path d="M157.24,231.46L159.68,233.90L157.24,236.33L154.80,233.90Z" fill="#3db54e"/>
<path d="M158.62,231.41L161.06,233.85L158.62,236.29L156.18,233.85Z" fill="#3db54e"/>
<path d="M160.00,231.36L162.44,233.80L160.00,236.24L157.56,233.80Z" fill="#3db54e"/>
<path d="M161.36,231.28L163.80,233.72L161.36,236.16L158.93,233.72Z" fill="#3db54e"/>
<path d="M162.73,231.20L165.16,233.64L162.73,236.08L160.29,233.64Z" fill="#3db54e"/>
<path d="M164.09,231.13L166.53,233.56L164.09,236.00L161.65,233.56Z" fill="#3db54e"/>
<path d="M165.45,231.05L167.89,233.48L165.45,235.92L163.02,233.48Z" fill="#3db54e"/>
<path d="M166.82,230.97L169.26,233.41L166.82,235.84L164.38,233.41Z" fill="#3db54e"/>
<path d="M168.18,230.89L170.62,233.33L168.18,235.76L165.74,233.33Z" fill="#3db54e"/>
<path d="M169.55,230.81L171.98,233.25L169.55,235.69L167.11,233.25Z" fill="#3db54e"/>
<path d="M170.91,230.73L173.35,233.17L170.91,235.61L168.47,233.17Z" fill="#3db54e"/>
<path d="M172.27,230.65L174.71,233.09L172.27,235.53L169.84,233.09Z" fill="#3db54e"/>
<path d="M173.64,230.57L176.07,233.01L173.64,235.45L171.20,233.01Z" fill="#3db54e"/>
<path d="M175.00,230.50L177.44,232.93L175.00,235.37L172.56,232.93Z" fill="#3db54e"/>
<path d="M176.36,230.42L178.80,232.85L176.36,235.29L173.93,232.85Z" fill="#3db54e"/>
<path d="M177.73,230.34L180.16,232.78L177.73,235.21L175.29,232.78Z" fill="#3db54e"/>
<path d="M179.09,230.26L181.53,232.70L179.09,235.13L176.65,232.70Z" fill="#3db54e"/>
<path d="M180.45,230.18L182.89,232.62L180.45,235.06L178.02,232.62Z" fill="#3db54e"/>
<path d="M181.82,230.10L184.26,232.54L181.82,234.98L179.38,232.54Z" fill="#3db54e"/>
<path d="M183.18,230.02L185.62,232.46L183.18,234.90L180.74,232.46Z" fill="#3db54e"/>
<path d="M184.55,229.94L186.98,232.38L184.55,234.82L182.11,232.38Z" fill="#3db54e"/>
<path d="M185.91,229.87L188.35,232.30L185.91,234.74L183.47,232.30Z" fill="#3db54e"/>
<path d="M187.27,229.79L189.71,232.22L187.27,234.66L184.84,232.22Z" fill="#3db54e"/>
<path d="M188.64,229.71L191.07,232.15L188.64,234.58L186.20,232.15Z" fill="#3db54e"/>
<path d="M190.00,229.63L192.44,232.07L190.00,234.50L187.56,232.07Z" fill="#3db54e"/>
<path d="M191.36,229.55L193.80,231.99L191.36,234.43L188.93,231.99Z" fill="#3db54e"/>
<path d="M192.73,229.47L195.16,231.91L192.73,234.35L190.29,231.91Z" fill="#3db54e"/>
<path d="M194.09,229.39L196.53,231.83L194.09,234.27L191.65,231.83Z" fill="#3db54e"/>
<path d="M195.45,229.31L197.89,231.75L195.45,234.19L193.02,231.75Z" fill="#3db54e"/>
<path d="M196.82,229.24L199.26,231.67L196.82,234.11L194.38,231.67Z" fill="#3db54e"/>
<path d="M198.18,229.16L200.62,231.59L198.18,234.03L195.74,231.59Z" fill="#3db54e"/>
<path d="M199.55,229.08L201.98,231.52L199.55,233.95L197.11,231.52Z" fill="#3db54e"/>
<path d="M200.91,229.00L203.35,231.44L200.91,233.87L198.47,231.44Z" fill="#3db54e"/>
<path d="M202.27,228.92L204.71,231.36L202.27,233.80L199.84,231.36Z" fill="#3db54e"/>
<path d="M203.64,228.84L206.07,231.28L203.64,233.72L201.20,231.28Z" fill="#3db54e"/>
<path d="M205.00,228.76L207.44,231.20L205.00,233.64L202.56,231.20Z" fill="#3db54e"/>
<path d="M206.40,228.48L208.84,230.92L206.40,233.36L203.96,230.92Z" fill="#3db54e"/>
<path d="M207.80,228.20L210.24,230.64L207.80,233.08L205.36,230.64Z" fill="#3db54e"/>
<path d="M209.20,227.92L211.64,230.36L209.20,232.80L206.76,230.36Z" fill="#3db54e"/>
<path d="M210.60,227.64L213.04,230.08L210.60,232.52L208.16,230.08Z" fill="#3db54e"/>
<path d="M212.00,227.36L214.44,229.80L212.00,232.24L209.56,229.80Z" fill="#3db54e"/>
<path d="M213.47,225.83L215.90,228.27L213.47,230.70L211.03,228.27Z" fill="#3db54e"/>
<path d="M214.93,224.30L217.37,226.73L214.93,229.17L212.50,226.73Z" fill="#3db54e"/>
<path d="M216.40,222.76L218.84,225.20L216.40,227.64L213.96,225.20Z" fill="#3db54e"/>
<path d="M217.30,217.06L219.74,219.50L217.30,221.94L214.86,219.50Z" fill="#3db54e"/>
<path d="M217.70,210.56L220.14,213.00L217.70,215.44L215.26,213.00Z" fill="#3db54e"/>
<path d="M218.20,203.96L220.64,206.40L218.20,208.84L215.76,206.40Z" fill="#3db54e"/>
<path d="M218.80,197.36L221.24,199.80L218.80,202.24L216.36,199.80Z" fill="#3db54e"/>
<path d="M219.60,190.76L222.04,193.20L219.60,195.64L217.16,193.20Z" fill="#3db54e"/>
<path d="M221.00,185.76L223.44,188.20L221.00,190.64L218.56,188.20Z" fill="#3db54e"/>
<path d="M223.00,182.06L225.44,184.50L223.00,186.94L220.56,184.50Z" fill="#3db54e"/>
<path d="M224.25,181.61L226.69,184.05L224.25,186.49L221.81,184.05Z" fill="#3db54e"/>
<path d="M225.50,181.16L227.94,183.60L225.50,186.04L223.06,183.60Z" fill="#3db54e"/>
<path d="M226.75,181.76L229.19,184.20L226.75,186.64L224.31,184.20Z" fill="#3db54e"/>
<path d="M228.00,182.36L230.44,184.80L228.00,187.24L225.56,184.80Z" fill="#3db54e"/>
<path d="M229.50,183.26L231.94,185.70L229.50,188.14L227.06,185.70Z" fill="#3db54e"/>
<path d="M231.00,184.16L233.44,186.60L231.00,189.04L228.56,186.60Z" fill="#3db54e"/>
<path d="M232.25,183.14L234.69,185.57L232.25,188.01L229.81,185.57Z" fill="#3db54e"/>
<path d="M233.50,182.11L235.94,184.55L233.50,186.99L231.06,184.55Z" fill="#3db54e"/>
<path d="M234.75,181.09L237.19,183.53L234.75,185.96L232.31,183.53Z" fill="#3db54e"/>
<path d="M236.00,180.06L238.44,182.50L236.00,184.94L233.56,182.50Z" fill="#3db54e"/>
<path d="M237.33,178.66L239.77,181.10L237.33,183.54L234.90,181.10Z" fill="#3db54e"/>
<path d="M238.67,177.26L241.10,179.70L238.67,182.14L236.23,179.70Z" fill="#3db54e"/>
<path d="M240.00,175.86L242.44,178.30L240.00,180.74L237.56,178.30Z" fill="#3db54e"/>
<path d="M241.33,174.76L243.77,177.20L241.33,179.64L238.90,177.20Z" fill="#3db54e"/>
<path d="M242.67,173.66L245.10,176.10L242.67,178.54L240.23,176.10Z" fill="#3db54e"/>
<path d="M244.00,172.56L246.44,175.00L244.00,177.44L241.56,175.00Z" fill="#3db54e"/>
<path d="M245.25,172.01L247.69,174.45L245.25,176.89L242.81,174.45Z" fill="#3db54e"/>
<path d="M246.50,171.46L248.94,173.90L246.50,176.34L244.06,173.90Z" fill="#3db54e"/>
<path d="M247.75,170.91L250.19,173.35L247.75,175.79L245.31,173.35Z" fill="#3db54e"/>
<path d="M249.00,170.36L251.44,172.80L249.00,175.24L246.56,172.80Z" fill="#3db54e"/>
<path d="M250.25,170.61L252.69,173.05L250.25,175.49L247.81,173.05Z" fill="#3db54e"/>
<path d="M251.50,170.86L253.94,173.30L251.50,175.74L249.06,173.30Z" fill="#3db54e"/>
<path d="M252.75,171.11L255.19,173.55L252.75,175.99L250.31,173.55Z" fill="#3db54e"/>
<path d="M254.00,171.36L256.44,173.80L254.00,176.24L251.56,173.80Z" fill="#3db54e"/>
<path d="M255.37,170.93L257.81,173.37L255.37,175.81L252.93,173.37Z" fill="#3db54e"/>
<path d="M256.74,170.51L259.18,172.94L256.74,175.38L254.31,172.94Z" fill="#3db54e"/>
<path d="M258.11,170.08L260.55,172.51L258.11,174.95L255.68,172.51Z" fill="#3db54e"/>
<path d="M259.49,169.65L261.92,172.09L259.49,174.52L257.05,172.09Z" fill="#3db54e"/>
<path d="M260.86,169.22L263.29,171.66L260.86,174.09L258.42,171.66Z" fill="#3db54e"/>
<path d="M262.23,168.79L264.67,171.23L262.23,173.67L259.79,171.23Z" fill="#3db54e"/>
<path d="M263.60,168.36L266.04,170.80L263.60,173.24L261.16,170.80Z" fill="#3db54e"/>
<path d="M264.95,168.16L267.39,170.60L264.95,173.04L262.51,170.60Z" fill="#3db54e"/>
<path d="M266.30,167.96L268.74,170.40L266.30,172.84L263.86,170.40Z" fill="#3db54e"/>
<path d="M267.65,167.76L270.09,170.20L267.65,172.64L265.21,170.20Z" fill="#3db54e"/>
<path d="M269.00,167.56L271.44,170.00L269.00,172.44L266.56,170.00Z" fill="#3db54e"/>
<path d="M270.35,167.36L272.79,169.80L270.35,172.24L267.91,169.80Z" fill="#3db54e"/>
<path d="M271.70,167.16L274.14,169.60L271.70,172.04L269.26,169.60Z" fill="#3db54e"/>
<path d="M273.05,166.96L275.49,169.40L273.05,171.84L270.61,169.40Z" fill="#3db54e"/>
<path d="M274.40,166.76L276.84,169.20L274.40,171.64L271.96,169.20Z" fill="#3db54e"/>
<path d="M275.50,166.66L277.94,169.10L275.50,171.54L273.06,169.10Z" fill="#3db54e"/>
<path d="M276.60,166.12L279.48,169.00L276.60,171.88L273.73,169.00Z" fill="#3db54e"/>
<path d="M277.30,221.72L280.18,224.60L277.30,227.47L274.43,224.60Z" fill="#3db54e"/>
<path d="M278.67,221.72L281.55,224.60L278.67,227.47L275.80,224.60Z" fill="#3db54e"/>
<path d="M280.04,221.72L282.92,224.60L280.04,227.47L277.17,224.60Z" fill="#3db54e"/>
<path d="M281.41,221.72L284.29,224.60L281.41,227.47L278.54,224.60Z" fill="#3db54e"/>
<path d="M282.78,221.72L285.66,224.60L282.78,227.47L279.91,224.60Z" fill="#3db54e"/>
<path d="M284.15,221.72L287.03,224.60L284.15,227.47L281.28,224.60Z" fill="#3db54e"/>
<path d="M285.52,221.72L288.40,224.60L285.52,227.47L282.65,224.60Z" fill="#3db54e"/>
<path d="M286.89,221.72L289.77,224.60L286.89,227.47L284.02,224.60Z" fill="#3db54e"/>
<path d="M288.26,221.72L291.14,224.60L288.26,227.47L285.39,224.60Z" fill="#3db54e"/>
<path d="M289.63,221.72L292.51,224.60L289.63,227.47L286.76,224.60Z" fill="#3db54e"/>
<path d="M291.00,221.72L293.88,224.60L291.00,227.47L288.13,224.60Z" fill="#3db54e"/>
<path d="M292.37,221.72L295.25,224.60L292.37,227.47L289.50,224.60Z" fill="#3db54e"/>
<path d="M293.74,221.72L296.62,224.60L293.74,227.47L290.87,224.60Z" fill="#3db54e"/>
<path d="M295.11,221.72L297.99,224.60L295.11,227.47L292.24,224.60Z" fill="#3db54e"/>
<path d="M296.49,221.72L299.36,224.60L296.49,227.47L293.61,224.60Z" fill="#3db54e"/>
<path d="M297.86,221.72L300.73,224.60L297.86,227.47L294.98,224.60Z" fill="#3db54e"/>
<path d="M299.23,221.72L302.10,224.60L299.23,227.47L296.35,224.60Z" fill="#3db54e"/>
<path d="M300.60,221.72L303.47,224.60L300.60,227.47L297.72,224.60Z" fill="#3db54e"/>
<path d="M301.97,221.72L304.84,224.60L301.97,227.47L299.09,224.60Z" fill="#3db54e"/>
<path d="M303.34,221.72L306.21,224.60L303.34,227.47L300.46,224.60Z" fill="#3db54e"/>
<path d="M304.71,221.72L307.58,224.60L304.71,227.47L301.83,224.60Z" fill="#3db54e"/>
<path d="M306.08,221.72L308.95,224.60L306.08,227.47L303.20,224.60Z" fill="#3db54e"/>
<path d="M307.45,221.72L310.32,224.60L307.45,227.47L304.57,224.60Z" fill="#3db54e"/>
<path d="M308.82,221.72L311.69,224.60L308.82,227.47L305.94,224.60Z" fill="#3db54e"/>
<path d="M310.19,221.72L313.06,224.60L310.19,227.47L307.31,224.60Z" fill="#3db54e"/>
<path d="M311.56,221.72L314.43,224.60L311.56,227.47L308.68,224.60Z" fill="#3db54e"/>
<path d="M312.93,221.72L315.80,224.60L312.93,227.47L310.05,224.60Z" fill="#3db54e"/>
<path d="M314.30,221.72L317.18,224.60L314.30,227.47L311.43,224.60Z" fill="#3db54e"/>
<polyline points="49.80,209.60 55.00,208.80 70.00,207.30 85.00,206.20 96.50,205.80 96.70,236.40 110.00,236.40 150.00,234.00 180.00,231.80 206.00,229.60 211.00,228.70 213.20,226.50 214.20,218.60 214.50,199.80 215.00,181.00 215.60,166.20 216.20,158.00 216.70,151.50 217.60,146.50 219.40,144.30 222.00,146.00 225.30,149.30 228.00,144.50 231.50,134.00 234.60,124.60 237.50,118.30 240.70,114.60 244.00,114.40 249.00,115.40 255.00,113.60 261.30,111.30 268.00,109.60 276.00,108.80 276.30,228.50 278.00,228.90 295.00,231.50 314.80,234.60" fill="none" stroke="#e2372c" stroke-width="1.2" stroke-linejoin="round"/>
<circle cx="49.80" cy="209.60" r="2.5" fill="#e2372c"/>
<circle cx="50.84" cy="209.44" r="2.5" fill="#e2372c"/>
<circle cx="51.88" cy="209.28" r="2.5" fill="#e2372c"/>
<circle cx="52.92" cy="209.12" r="2.5" fill="#e2372c"/>
<circle cx="53.96" cy="208.96" r="2.5" fill="#e2372c"/>
<circle cx="55.00" cy="208.80" r="2.5" fill="#e2372c"/>
<circle cx="56.00" cy="208.70" r="2.5" fill="#e2372c"/>
<circle cx="57.00" cy="208.60" r="2.5" fill="#e2372c"/>
<circle cx="58.00" cy="208.50" r="2.5" fill="#e2372c"/>
<circle cx="59.00" cy="208.40" r="2.5" fill="#e2372c"/>
<circle cx="60.00" cy="208.30" r="2.5" fill="#e2372c"/>
<circle cx="61.00" cy="208.20" r="2.5" fill="#e2372c"/>
<circle cx="62.00" cy="208.10" r="2.5" fill="#e2372c"/>
<circle cx="63.00" cy="208.00" r="2.5" fill="#e2372c"/>
<circle cx="64.00" cy="207.90" r="2.5" fill="#e2372c"/>
<circle cx="65.00" cy="207.80" r="2.5" fill="#e2372c"/>
<circle cx="66.00" cy="207.70" r="2.5" fill="#e2372c"/>
<circle cx="67.00" cy="207.60" r="2.5" fill="#e2372c"/>
<circle cx="68.00" cy="207.50" r="2.5" fill="#e2372c"/>
<circle cx="69.00" cy="207.40" r="2.5" fill="#e2372c"/>
<circle cx="70.00" cy="207.30" r="2.5" fill="#e2372c"/>
<circle cx="71.00" cy="207.23" r="2.5" fill="#e2372c"/>
<circle cx="72.00" cy="207.15" r="2.5" fill="#e2372c"/>
<circle cx="73.00" cy="207.08" r="2.5" fill="#e2372c"/>
<circle cx="74.00" cy="207.01" r="2.5" fill="#e2372c"/>
<circle cx="75.00" cy="206.93" r="2.5" fill="#e2372c"/>
<circle cx="76.00" cy="206.86" r="2.5" fill="#e2372c"/>
<circle cx="77.00" cy="206.79" r="2.5" fill="#e2372c"/>
<circle cx="78.00" cy="206.71" r="2.5" fill="#e2372c"/>
<circle cx="79.00" cy="206.64" r="2.5" fill="#e2372c"/>
<circle cx="80.00" cy="206.57" r="2.5" fill="#e2372c"/>
<circle cx="81.00" cy="206.49" r="2.5" fill="#e2372c"/>
<circle cx="82.00" cy="206.42" r="2.5" fill="#e2372c"/>
<circle cx="83.00" cy="206.35" r="2.5" fill="#e2372c"/>
<circle cx="84.00" cy="206.27" r="2.5" fill="#e2372c"/>
<circle cx="85.00" cy="206.20" r="2.5" fill="#e2372c"/>
<circle cx="85.96" cy="206.17" r="2.5" fill="#e2372c"/>
<circle cx="86.92" cy="206.13" r="2.5" fill="#e2372c"/>
<circle cx="87.88" cy="206.10" r="2.5" fill="#e2372c"/>
<circle cx="88.83" cy="206.07" r="2.5" fill="#e2372c"/>
<circle cx="89.79" cy="206.03" r="2.5" fill="#e2372c"/>
<circle cx="90.75" cy="206.00" r="2.5" fill="#e2372c"/>
<circle cx="91.71" cy="205.97" r="2.5" fill="#e2372c"/>
<circle cx="92.67" cy="205.93" r="2.5" fill="#e2372c"/>
<circle cx="93.62" cy="205.90" r="2.5" fill="#e2372c"/>
<circle cx="94.58" cy="205.87" r="2.5" fill="#e2372c"/>
<circle cx="95.54" cy="205.83" r="2.5" fill="#e2372c"/>
<circle cx="96.50" cy="205.80" r="2.5" fill="#e2372c"/>
<circle cx="96.70" cy="236.40" r="2.5" fill="#e2372c"/>
<circle cx="97.72" cy="236.40" r="2.5" fill="#e2372c"/>
<circle cx="98.75" cy="236.40" r="2.5" fill="#e2372c"/>
<circle cx="99.77" cy="236.40" r="2.5" fill="#e2372c"/>
<circle cx="100.79" cy="236.40" r="2.5" fill="#e2372c"/>
<circle cx="101.82" cy="236.40" r="2.5" fill="#e2372c"/>
<circle cx="102.84" cy="236.40" r="2.5" fill="#e2372c"/>
<circle cx="103.86" cy="236.40" r="2.5" fill="#e2372c"/>
<circle cx="104.88" cy="236.40" r="2.5" fill="#e2372c"/>
<circle cx="105.91" cy="236.40" r="2.5" fill="#e2372c"/>
<circle cx="106.93" cy="236.40" r="2.5" fill="#e2372c"/>
<circle cx="107.95" cy="236.40" r="2.5" fill="#e2372c"/>
<circle cx="108.98" cy="236.40" r="2.5" fill="#e2372c"/>
<circle cx="110.00" cy="236.40" r="2.5" fill="#e2372c"/>
<circle cx="111.00" cy="236.34" r="2.5" fill="#e2372c"/>
<circle cx="112.00" cy="236.28" r="2.5" fill="#e2372c"/>
<circle cx="113.00" cy="236.22" r="2.5" fill="#e2372c"/>
<circle cx="114.00" cy="236.16" r="2.5" fill="#e2372c"/>
<circle cx="115.00" cy="236.10" r="2.5" fill="#e2372c"/>
<circle cx="116.00" cy="236.04" r="2.5" fill="#e2372c"/>
<circle cx="117.00" cy="235.98" r="2.5" fill="#e2372c"/>
<circle cx="118.00" cy="235.92" r="2.5" fill="#e2372c"/>
<circle cx="119.00" cy="235.86" r="2.5" fill="#e2372c"/>
<circle cx="120.00" cy="235.80" r="2.5" fill="#e2372c"/>
<circle cx="121.00" cy="235.74" r="2.5" fill="#e2372c"/>
<circle cx="122.00" cy="235.68" r="2.5" fill="#e2372c"/>
<circle cx="123.00" cy="235.62" r="2.5" fill="#e2372c"/>
<circle cx="124.00" cy="235.56" r="2.5" fill="#e2372c"/>
<circle cx="125.00" cy="235.50" r="2.5" fill="#e2372c"/>
<circle cx="126.00" cy="235.44" r="2.5" fill="#e2372c"/>
<circle cx="127.00" cy="235.38" r="2.5" fill="#e2372c"/>
<circle cx="128.00" cy="235.32" r="2.5" fill="#e2372c"/>
<circle cx="129.00" cy="235.26" r="2.5" fill="#e2372c"/>
<circle cx="130.00" cy="235.20" r="2.5" fill="#e2372c"/>
<circle cx="131.00" cy="235.14" r="2.5" fill="#e2372c"/>
<circle cx="132.00" cy="235.08" r="2.5" fill="#e2372c"/>
<circle cx="133.00" cy="235.02" r="2.5" fill="#e2372c"/>
<circle cx="134.00" cy="234.96" r="2.5" fill="#e2372c"/>
<circle cx="135.00" cy="234.90" r="2.5" fill="#e2372c"/>
<circle cx="136.00" cy="234.84" r="2.5" fill="#e2372c"/>
<circle cx="137.00" cy="234.78" r="2.5" fill="#e2372c"/>
<circle cx="138.00" cy="234.72" r="2.5" fill="#e2372c"/>
<circle cx="139.00" cy="234.66" r="2.5" fill="#e2372c"/>
<circle cx="140.00" cy="234.60" r="2.5" fill="#e2372c"/>
<circle cx="141.00" cy="234.54" r="2.5" fill="#e2372c"/>
<circle cx="142.00" cy="234.48" r="2.5" fill="#e2372c"/>
<circle cx="143.00" cy="234.42" r="2.5" fill="#e2372c"/>
<circle cx="144.00" cy="234.36" r="2.5" fill="#e2372c"/>
<circle cx="145.00" cy="234.30" r="2.5" fill="#e2372c"/>
<circle cx="146.00" cy="234.24" r="2.5" fill="#e2372c"/>
<circle cx="147.00" cy="234.18" r="2.5" fill="#e2372c"/>
<circle cx="148.00" cy="234.12" r="2.5" fill="#e2372c"/>
<circle cx="149.00" cy="234.06" r="2.5" fill="#e2372c"/>
<circle cx="150.00" cy="234.00" r="2.5" fill="#e2372c"/>
<circle cx="151.00" cy="233.93" r="2.5" fill="#e2372c"/>
<circle cx="152.00" cy="233.85" r="2.5" fill="#e2372c"/>
<circle cx="153.00" cy="233.78" r="2.5" fill="#e2372c"/>
<circle cx="154.00" cy="233.71" r="2.5" fill="#e2372c"/>
<circle cx="155.00" cy="233.63" r="2.5" fill="#e2372c"/>
<circle cx="156.00" cy="233.56" r="2.5" fill="#e2372c"/>
<circle cx="157.00" cy="233.49" r="2.5" fill="#e2372c"/>
<circle cx="158.00" cy="233.41" r="2.5" fill="#e2372c"/>
<circle cx="159.00" cy="233.34" r="2.5" fill="#e2372c"/>
<circle cx="160.00" cy="233.27" r="2.5" fill="#e2372c"/>
<circle cx="161.00" cy="233.19" r="2.5" fill="#e2372c"/>
<circle cx="162.00" cy="233.12" r="2.5" fill="#e2372c"/>
<circle cx="163.00" cy="233.05" r="2.5" fill="#e2372c"/>
<circle cx="164.00" cy="232.97" r="2.5" fill="#e2372c"/>
<circle cx="165.00" cy="232.90" r="2.5" fill="#e2372c"/>
<circle cx="166.00" cy="232.83" r="2.5" fill="#e2372c"/>
<circle cx="167.00" cy="232.75" r="2.5" fill="#e2372c"/>
<circle cx="168.00" cy="232.68" r="2.5" fill="#e2372c"/>
<circle cx="169.00" cy="232.61" r="2.5" fill="#e2372c"/>
<circle cx="170.00" cy="232.53" r="2.5" fill="#e2372c"/>
<circle cx="171.00" cy="232.46" r="2.5" fill="#e2372c"/>
<circle cx="172.00" cy="232.39" r="2.5" fill="#e2372c"/>
<circle cx="173.00" cy="232.31" r="2.5" fill="#e2372c"/>
<circle cx="174.00" cy="232.24" r="2.5" fill="#e2372c"/>
<circle cx="175.00" cy="232.17" r="2.5" fill="#e2372c"/>
<circle cx="176.00" cy="232.09" r="2.5" fill="#e2372c"/>
<circle cx="177.00" cy="232.02" r="2.5" fill="#e2372c"/>
<circle cx="178.00" cy="231.95" r="2.5" fill="#e2372c"/>
<circle cx="179.00" cy="231.87" r="2.5" fill="#e2372c"/>
<circle cx="180.00" cy="231.80" r="2.5" fill="#e2372c"/>
<circle cx="181.00" cy="231.72" r="2.5" fill="#e2372c"/>
<circle cx="182.00" cy="231.63" r="2.5" fill="#e2372c"/>
<circle cx="183.00" cy="231.55" r="2.5" fill="#e2372c"/>
<circle cx="184.00" cy="231.46" r="2.5" fill="#e2372c"/>
<circle cx="185.00" cy="231.38" r="2.5" fill="#e2372c"/>
<circle cx="186.00" cy="231.29" r="2.5" fill="#e2372c"/>
<circle cx="187.00" cy="231.21" r="2.5" fill="#e2372c"/>
<circle cx="188.00" cy="231.12" r="2.5" fill="#e2372c"/>
<circle cx="189.00" cy="231.04" r="2.5" fill="#e2372c"/>
<circle cx="190.00" cy="230.95" r="2.5" fill="#e2372c"/>
<circle cx="191.00" cy="230.87" r="2.5" fill="#e2372c"/>
<circle cx="192.00" cy="230.78" r="2.5" fill="#e2372c"/>
<circle cx="193.00" cy="230.70" r="2.5" fill="#e2372c"/>
<circle cx="194.00" cy="230.62" r="2.5" fill="#e2372c"/>
<circle cx="195.00" cy="230.53" r="2.5" fill="#e2372c"/>
<circle cx="196.00" cy="230.45" r="2.5" fill="#e2372c"/>
<circle cx="197.00" cy="230.36" r="2.5" fill="#e2372c"/>
<circle cx="198.00" cy="230.28" r="2.5" fill="#e2372c"/>
<circle cx="199.00" cy="230.19" r="2.5" fill="#e2372c"/>
<circle cx="200.00" cy="230.11" r="2.5" fill="#e2372c"/>
<circle cx="201.00" cy="230.02" r="2.5" fill="#e2372c"/>
<circle cx="202.00" cy="229.94" r="2.5" fill="#e2372c"/>
<circle cx="203.00" cy="229.85" r="2.5" fill="#e2372c"/>
<circle cx="204.00" cy="229.77" r="2.5" fill="#e2372c"/>
<circle cx="205.00" cy="229.68" r="2.5" fill="#e2372c"/>
<circle cx="206.00" cy="229.60" r="2.5" fill="#e2372c"/>
<circle cx="207.00" cy="229.42" r="2.5" fill="#e2372c"/>
<circle cx="208.00" cy="229.24" r="2.5" fill="#e2372c"/>
<circle cx="209.00" cy="229.06" r="2.5" fill="#e2372c"/>
<circle cx="210.00" cy="228.88" r="2.5" fill="#e2372c"/>
<circle cx="211.00" cy="228.70" r="2.5" fill="#e2372c"/>
<circle cx="212.10" cy="227.60" r="2.5" fill="#e2372c"/>
<circle cx="213.20" cy="226.50" r="2.5" fill="#e2372c"/>
<circle cx="214.20" cy="218.60" r="2.5" fill="#e2372c"/>
<circle cx="214.50" cy="199.80" r="2.5" fill="#e2372c"/>
<circle cx="215.00" cy="181.00" r="2.5" fill="#e2372c"/>
<circle cx="215.60" cy="166.20" r="2.5" fill="#e2372c"/>
<circle cx="216.20" cy="158.00" r="2.5" fill="#e2372c"/>
<circle cx="216.70" cy="151.50" r="2.5" fill="#e2372c"/>
<circle cx="217.60" cy="146.50" r="2.5" fill="#e2372c"/>
<circle cx="218.50" cy="145.40" r="2.5" fill="#e2372c"/>
<circle cx="219.40" cy="144.30" r="2.5" fill="#e2372c"/>
<circle cx="220.27" cy="144.87" r="2.5" fill="#e2372c"/>
<circle cx="221.13" cy="145.43" r="2.5" fill="#e2372c"/>
<circle cx="222.00" cy="146.00" r="2.5" fill="#e2372c"/>
<circle cx="223.10" cy="147.10" r="2.5" fill="#e2372c"/>
<circle cx="224.20" cy="148.20" r="2.5" fill="#e2372c"/>
<circle cx="225.30" cy="149.30" r="2.5" fill="#e2372c"/>
<circle cx="226.20" cy="147.70" r="2.5" fill="#e2372c"/>
<circle cx="227.10" cy="146.10" r="2.5" fill="#e2372c"/>
<circle cx="228.00" cy="144.50" r="2.5" fill="#e2372c"/>
<circle cx="228.88" cy="141.88" r="2.5" fill="#e2372c"/>
<circle cx="229.75" cy="139.25" r="2.5" fill="#e2372c"/>
<circle cx="230.62" cy="136.62" r="2.5" fill="#e2372c"/>
<circle cx="231.50" cy="134.00" r="2.5" fill="#e2372c"/>
<circle cx="232.53" cy="130.87" r="2.5" fill="#e2372c"/>
<circle cx="233.57" cy="127.73" r="2.5" fill="#e2372c"/>
<circle cx="234.60" cy="124.60" r="2.5" fill="#e2372c"/>
<circle cx="235.57" cy="122.50" r="2.5" fill="#e2372c"/>
<circle cx="236.53" cy="120.40" r="2.5" fill="#e2372c"/>
<circle cx="237.50" cy="118.30" r="2.5" fill="#e2372c"/>
<circle cx="238.57" cy="117.07" r="2.5" fill="#e2372c"/>
<circle cx="239.63" cy="115.83" r="2.5" fill="#e2372c"/>
<circle cx="240.70" cy="114.60" r="2.5" fill="#e2372c"/>
<circle cx="241.80" cy="114.53" r="2.5" fill="#e2372c"/>
<circle cx="242.90" cy="114.47" r="2.5" fill="#e2372c"/>
<circle cx="244.00" cy="114.40" r="2.5" fill="#e2372c"/>
<circle cx="245.00" cy="114.60" r="2.5" fill="#e2372c"/>
<circle cx="246.00" cy="114.80" r="2.5" fill="#e2372c"/>
<circle cx="247.00" cy="115.00" r="2.5" fill="#e2372c"/>
<circle cx="248.00" cy="115.20" r="2.5" fill="#e2372c"/>
<circle cx="249.00" cy="115.40" r="2.5" fill="#e2372c"/>
<circle cx="250.00" cy="115.10" r="2.5" fill="#e2372c"/>
<circle cx="251.00" cy="114.80" r="2.5" fill="#e2372c"/>
<circle cx="252.00" cy="114.50" r="2.5" fill="#e2372c"/>
<circle cx="253.00" cy="114.20" r="2.5" fill="#e2372c"/>
<circle cx="254.00" cy="113.90" r="2.5" fill="#e2372c"/>
<circle cx="255.00" cy="113.60" r="2.5" fill="#e2372c"/>
<circle cx="256.05" cy="113.22" r="2.5" fill="#e2372c"/>
<circle cx="257.10" cy="112.83" r="2.5" fill="#e2372c"/>
<circle cx="258.15" cy="112.45" r="2.5" fill="#e2372c"/>
<circle cx="259.20" cy="112.07" r="2.5" fill="#e2372c"/>
<circle cx="260.25" cy="111.68" r="2.5" fill="#e2372c"/>
<circle cx="261.30" cy="111.30" r="2.5" fill="#e2372c"/>
<circle cx="262.26" cy="111.06" r="2.5" fill="#e2372c"/>
<circle cx="263.21" cy="110.81" r="2.5" fill="#e2372c"/>
<circle cx="264.17" cy="110.57" r="2.5" fill="#e2372c"/>
<circle cx="265.13" cy="110.33" r="2.5" fill="#e2372c"/>
<circle cx="266.09" cy="110.09" r="2.5" fill="#e2372c"/>
<circle cx="267.04" cy="109.84" r="2.5" fill="#e2372c"/>
<circle cx="268.00" cy="109.60" r="2.5" fill="#e2372c"/>
<circle cx="269.00" cy="109.50" r="2.5" fill="#e2372c"/>
<circle cx="270.00" cy="109.40" r="2.5" fill="#e2372c"/>
<circle cx="271.00" cy="109.30" r="2.5" fill="#e2372c"/>
<circle cx="272.00" cy="109.20" r="2.5" fill="#e2372c"/>
<circle cx="273.00" cy="109.10" r="2.5" fill="#e2372c"/>
<circle cx="274.00" cy="109.00" r="2.5" fill="#e2372c"/>
<circle cx="275.00" cy="108.90" r="2.5" fill="#e2372c"/>
<circle cx="276.00" cy="108.80" r="2.5" fill="#e2372c"/>
<circle cx="276.30" cy="228.50" r="2.5" fill="#e2372c"/>
<circle cx="277.15" cy="228.70" r="2.8" fill="#e2372c"/>
<circle cx="278.00" cy="228.90" r="2.8" fill="#e2372c"/>
<circle cx="279.00" cy="229.05" r="2.8" fill="#e2372c"/>
<circle cx="280.00" cy="229.21" r="2.8" fill="#e2372c"/>
<circle cx="281.00" cy="229.36" r="2.8" fill="#e2372c"/>
<circle cx="282.00" cy="229.51" r="2.8" fill="#e2372c"/>
<circle cx="283.00" cy="229.66" r="2.8" fill="#e2372c"/>
<circle cx="284.00" cy="229.82" r="2.8" fill="#e2372c"/>
<circle cx="285.00" cy="229.97" r="2.8" fill="#e2372c"/>
<circle cx="286.00" cy="230.12" r="2.8" fill="#e2372c"/>
<circle cx="287.00" cy="230.28" r="2.8" fill="#e2372c"/>
<circle cx="288.00" cy="230.43" r="2.8" fill="#e2372c"/>
<circle cx="289.00" cy="230.58" r="2.8" fill="#e2372c"/>
<circle cx="290.00" cy="230.74" r="2.8" fill="#e2372c"/>
<circle cx="291.00" cy="230.89" r="2.8" fill="#e2372c"/>
<circle cx="292.00" cy="231.04" r="2.8" fill="#e2372c"/>
<circle cx="293.00" cy="231.19" r="2.8" fill="#e2372c"/>
<circle cx="294.00" cy="231.35" r="2.8" fill="#e2372c"/>
<circle cx="295.00" cy="231.50" r="2.8" fill="#e2372c"/>
<circle cx="295.99" cy="231.66" r="2.8" fill="#e2372c"/>
<circle cx="296.98" cy="231.81" r="2.8" fill="#e2372c"/>
<circle cx="297.97" cy="231.97" r="2.8" fill="#e2372c"/>
<circle cx="298.96" cy="232.12" r="2.8" fill="#e2372c"/>
<circle cx="299.95" cy="232.28" r="2.8" fill="#e2372c"/>
<circle cx="300.94" cy="232.43" r="2.8" fill="#e2372c"/>
<circle cx="301.93" cy="232.59" r="2.8" fill="#e2372c"/>
<circle cx="302.92" cy="232.74" r="2.8" fill="#e2372c"/>
<circle cx="303.91" cy="232.90" r="2.8" fill="#e2372c"/>
<circle cx="304.90" cy="233.05" r="2.8" fill="#e2372c"/>
<circle cx="305.89" cy="233.20" r="2.8" fill="#e2372c"/>
<circle cx="306.88" cy="233.36" r="2.8" fill="#e2372c"/>
<circle cx="307.87" cy="233.51" r="2.8" fill="#e2372c"/>
<circle cx="308.86" cy="233.67" r="2.8" fill="#e2372c"/>
<circle cx="309.85" cy="233.82" r="2.8" fill="#e2372c"/>
<circle cx="310.84" cy="233.98" r="2.8" fill="#e2372c"/>
<circle cx="311.83" cy="234.13" r="2.8" fill="#e2372c"/>
<circle cx="312.82" cy="234.29" r="2.8" fill="#e2372c"/>
<circle cx="313.81" cy="234.44" r="2.8" fill="#e2372c"/>
<circle cx="314.80" cy="234.60" r="2.8" fill="#e2372c"/>
<polyline points="49.90,213.00 55.00,215.50 60.00,217.50 73.00,220.60 83.00,222.50 92.00,223.50 100.00,224.00 110.60,223.40 111.20,233.30 113.70,236.00 154.00,229.20 156.30,235.00 160.30,239.30 206.40,225.60 207.70,218.50 209.00,187.20 210.50,144.30 211.60,111.90 213.20,92.60 214.60,82.20 215.70,75.60 216.90,69.40 218.30,61.80 219.40,56.10 221.00,51.00 222.80,47.00 224.80,42.50 227.50,38.20 230.80,34.20 234.30,32.00 236.80,32.30 240.40,34.00 245.50,37.30 249.60,40.30 253.70,41.60 257.90,44.00 263.00,47.30 267.10,47.80 271.20,47.30 273.50,48.60 274.60,49.20 275.00,209.60 278.00,209.80 281.00,210.80 284.00,213.00 287.00,216.30 290.00,219.80 293.00,222.80 297.00,226.30 301.00,228.90 305.00,230.80 315.00,232.80" fill="none" stroke="#000" stroke-width="0.9" stroke-linejoin="round"/>
<circle cx="49.90" cy="213.00" r="2.25" fill="none" stroke="#000" stroke-width="0.95"/>
<circle cx="51.60" cy="213.83" r="2.25" fill="none" stroke="#000" stroke-width="0.95"/>
<circle cx="53.30" cy="214.67" r="2.25" fill="none" stroke="#000" stroke-width="0.95"/>
<circle cx="55.00" cy="215.50" r="2.25" fill="none" stroke="#000" stroke-width="0.95"/>
<circle cx="56.67" cy="216.17" r="2.25" fill="none" stroke="#000" stroke-width="0.95"/>
<circle cx="58.33" cy="216.83" r="2.25" fill="none" stroke="#000" stroke-width="0.95"/>
<circle cx="60.00" cy="217.50" r="2.25" fill="none" stroke="#000" stroke-width="0.95"/>
<circle cx="61.86" cy="217.94" r="2.25" fill="none" stroke="#000" stroke-width="0.95"/>
<circle cx="63.71" cy="218.39" r="2.25" fill="none" stroke="#000" stroke-width="0.95"/>
<circle cx="65.57" cy="218.83" r="2.25" fill="none" stroke="#000" stroke-width="0.95"/>
<circle cx="67.43" cy="219.27" r="2.25" fill="none" stroke="#000" stroke-width="0.95"/>
<circle cx="69.29" cy="219.71" r="2.25" fill="none" stroke="#000" stroke-width="0.95"/>
<circle cx="71.14" cy="220.16" r="2.25" fill="none" stroke="#000" stroke-width="0.95"/>
<circle cx="73.00" cy="220.60" r="2.25" fill="none" stroke="#000" stroke-width="0.95"/>
<circle cx="75.00" cy="220.98" r="2.25" fill="none" stroke="#000" stroke-width="0.95"/>
<circle cx="77.00" cy="221.36" r="2.25" fill="none" stroke="#000" stroke-width="0.95"/>
<circle cx="79.00" cy="221.74" r="2.25" fill="none" stroke="#000" stroke-width="0.95"/>
<circle cx="81.00" cy="222.12" r="2.25" fill="none" stroke="#000" stroke-width="0.95"/>
<circle cx="83.00" cy="222.50" r="2.25" fill="none" stroke="#000" stroke-width="0.95"/>
<circle cx="84.80" cy="222.70" r="2.25" fill="none" stroke="#000" stroke-width="0.95"/>
<circle cx="86.60" cy="222.90" r="2.25" fill="none" stroke="#000" stroke-width="0.95"/>
<circle cx="88.40" cy="223.10" r="2.25" fill="none" stroke="#000" stroke-width="0.95"/>
<circle cx="90.20" cy="223.30" r="2.25" fill="none" stroke="#000" stroke-width="0.95"/>
<circle cx="92.00" cy="223.50" r="2.25" fill="none" stroke="#000" stroke-width="0.95"/>
<circle cx="94.00" cy="223.62" r="2.25" fill="none" stroke="#000" stroke-width="0.95"/>
<circle cx="96.00" cy="223.75" r="2.25" fill="none" stroke="#000" stroke-width="0.95"/>
<circle cx="98.00" cy="223.88" r="2.25" fill="none" stroke="#000" stroke-width="0.95"/>
<circle cx="100.00" cy="224.00" r="2.25" fill="none" stroke="#000" stroke-width="0.95"/>
<circle cx="101.77" cy="223.90" r="2.25" fill="none" stroke="#000" stroke-width="0.95"/>
<circle cx="103.53" cy="223.80" r="2.25" fill="none" stroke="#000" stroke-width="0.95"/>
<circle cx="105.30" cy="223.70" r="2.25" fill="none" stroke="#000" stroke-width="0.95"/>
<circle cx="107.07" cy="223.60" r="2.25" fill="none" stroke="#000" stroke-width="0.95"/>
<circle cx="108.83" cy="223.50" r="2.25" fill="none" stroke="#000" stroke-width="0.95"/>
<circle cx="110.60" cy="223.40" r="2.25" fill="none" stroke="#000" stroke-width="0.95"/>
<circle cx="111.20" cy="233.30" r="2.25" fill="none" stroke="#000" stroke-width="0.95"/>
<circle cx="113.70" cy="236.00" r="1.8" fill="none" stroke="#000" stroke-width="0.75"/>
<circle cx="115.94" cy="235.62" r="1.8" fill="none" stroke="#000" stroke-width="0.75"/>
<circle cx="118.18" cy="235.24" r="1.8" fill="none" stroke="#000" stroke-width="0.75"/>
<circle cx="120.42" cy="234.87" r="1.8" fill="none" stroke="#000" stroke-width="0.75"/>
<circle cx="122.66" cy="234.49" r="1.8" fill="none" stroke="#000" stroke-width="0.75"/>
<circle cx="124.89" cy="234.11" r="1.8" fill="none" stroke="#000" stroke-width="0.75"/>
<circle cx="127.13" cy="233.73" r="1.8" fill="none" stroke="#000" stroke-width="0.75"/>
<circle cx="129.37" cy="233.36" r="1.8" fill="none" stroke="#000" stroke-width="0.75"/>
<circle cx="131.61" cy="232.98" r="1.8" fill="none" stroke="#000" stroke-width="0.75"/>
<circle cx="133.85" cy="232.60" r="1.8" fill="none" stroke="#000" stroke-width="0.75"/>
<circle cx="136.09" cy="232.22" r="1.8" fill="none" stroke="#000" stroke-width="0.75"/>
<circle cx="138.33" cy="231.84" r="1.8" fill="none" stroke="#000" stroke-width="0.75"/>
<circle cx="140.57" cy="231.47" r="1.8" fill="none" stroke="#000" stroke-width="0.75"/>
<circle cx="142.81" cy="231.09" r="1.8" fill="none" stroke="#000" stroke-width="0.75"/>
<circle cx="145.04" cy="230.71" r="1.8" fill="none" stroke="#000" stroke-width="0.75"/>
<circle cx="147.28" cy="230.33" r="1.8" fill="none" stroke="#000" stroke-width="0.75"/>
<circle cx="149.52" cy="229.96" r="1.8" fill="none" stroke="#000" stroke-width="0.75"/>
<circle cx="151.76" cy="229.58" r="1.8" fill="none" stroke="#000" stroke-width="0.75"/>
<circle cx="154.00" cy="229.20" r="1.8" fill="none" stroke="#000" stroke-width="0.75"/>
<circle cx="156.30" cy="235.00" r="1.8" fill="none" stroke="#000" stroke-width="0.75"/>
<circle cx="158.30" cy="237.15" r="1.8" fill="none" stroke="#000" stroke-width="0.75"/>
<circle cx="160.30" cy="239.30" r="1.8" fill="none" stroke="#000" stroke-width="0.75"/>
<circle cx="162.50" cy="238.65" r="1.8" fill="none" stroke="#000" stroke-width="0.75"/>
<circle cx="164.69" cy="238.00" r="1.8" fill="none" stroke="#000" stroke-width="0.75"/>
<circle cx="166.89" cy="237.34" r="1.8" fill="none" stroke="#000" stroke-width="0.75"/>
<circle cx="169.08" cy="236.69" r="1.8" fill="none" stroke="#000" stroke-width="0.75"/>
<circle cx="171.28" cy="236.04" r="1.8" fill="none" stroke="#000" stroke-width="0.75"/>
<circle cx="173.47" cy="235.39" r="1.8" fill="none" stroke="#000" stroke-width="0.75"/>
<circle cx="175.67" cy="234.73" r="1.8" fill="none" stroke="#000" stroke-width="0.75"/>
<circle cx="177.86" cy="234.08" r="1.8" fill="none" stroke="#000" stroke-width="0.75"/>
<circle cx="180.06" cy="233.43" r="1.8" fill="none" stroke="#000" stroke-width="0.75"/>
<circle cx="182.25" cy="232.78" r="1.8" fill="none" stroke="#000" stroke-width="0.75"/>
<circle cx="184.45" cy="232.12" r="1.8" fill="none" stroke="#000" stroke-width="0.75"/>
<circle cx="186.64" cy="231.47" r="1.8" fill="none" stroke="#000" stroke-width="0.75"/>
<circle cx="188.84" cy="230.82" r="1.8" fill="none" stroke="#000" stroke-width="0.75"/>
<circle cx="191.03" cy="230.17" r="1.8" fill="none" stroke="#000" stroke-width="0.75"/>
<circle cx="193.23" cy="229.51" r="1.8" fill="none" stroke="#000" stroke-width="0.75"/>
<circle cx="195.42" cy="228.86" r="1.8" fill="none" stroke="#000" stroke-width="0.75"/>
<circle cx="197.62" cy="228.21" r="1.8" fill="none" stroke="#000" stroke-width="0.75"/>
<circle cx="199.81" cy="227.56" r="1.8" fill="none" stroke="#000" stroke-width="0.75"/>
<circle cx="202.01" cy="226.90" r="1.8" fill="none" stroke="#000" stroke-width="0.75"/>
<circle cx="204.20" cy="226.25" r="1.8" fill="none" stroke="#000" stroke-width="0.75"/>
<circle cx="206.40" cy="225.60" r="1.8" fill="none" stroke="#000" stroke-width="0.75"/>
<circle cx="207.70" cy="218.50" r="1.85" fill="none" stroke="#000" stroke-width="0.75"/>
<circle cx="209.00" cy="187.20" r="1.85" fill="none" stroke="#000" stroke-width="0.75"/>
<circle cx="210.50" cy="144.30" r="1.85" fill="none" stroke="#000" stroke-width="0.75"/>
<circle cx="211.60" cy="111.90" r="1.85" fill="none" stroke="#000" stroke-width="0.75"/>
<circle cx="213.20" cy="92.60" r="1.85" fill="none" stroke="#000" stroke-width="0.75"/>
<circle cx="214.60" cy="82.20" r="1.85" fill="none" stroke="#000" stroke-width="0.75"/>
<circle cx="215.70" cy="75.60" r="1.85" fill="none" stroke="#000" stroke-width="0.75"/>
<circle cx="216.90" cy="69.40" r="1.85" fill="none" stroke="#000" stroke-width="0.75"/>
<circle cx="218.30" cy="61.80" r="1.85" fill="none" stroke="#000" stroke-width="0.75"/>
<circle cx="219.40" cy="56.10" r="1.85" fill="none" stroke="#000" stroke-width="0.75"/>
<circle cx="221.00" cy="51.00" r="1.85" fill="none" stroke="#000" stroke-width="0.75"/>
<circle cx="222.80" cy="47.00" r="1.85" fill="none" stroke="#000" stroke-width="0.75"/>
<circle cx="224.80" cy="42.50" r="1.85" fill="none" stroke="#000" stroke-width="0.75"/>
<circle cx="227.50" cy="38.20" r="2.0" fill="none" stroke="#000" stroke-width="0.75"/>
<circle cx="229.15" cy="36.20" r="2.0" fill="none" stroke="#000" stroke-width="0.75"/>
<circle cx="230.80" cy="34.20" r="2.0" fill="none" stroke="#000" stroke-width="0.75"/>
<circle cx="232.55" cy="33.10" r="2.0" fill="none" stroke="#000" stroke-width="0.75"/>
<circle cx="234.30" cy="32.00" r="2.0" fill="none" stroke="#000" stroke-width="0.75"/>
<circle cx="236.80" cy="32.30" r="2.0" fill="none" stroke="#000" stroke-width="0.75"/>
<circle cx="238.60" cy="33.15" r="2.0" fill="none" stroke="#000" stroke-width="0.75"/>
<circle cx="240.40" cy="34.00" r="2.0" fill="none" stroke="#000" stroke-width="0.75"/>
<circle cx="242.10" cy="35.10" r="2.0" fill="none" stroke="#000" stroke-width="0.75"/>
<circle cx="243.80" cy="36.20" r="2.0" fill="none" stroke="#000" stroke-width="0.75"/>
<circle cx="245.50" cy="37.30" r="2.0" fill="none" stroke="#000" stroke-width="0.75"/>
<circle cx="247.55" cy="38.80" r="2.0" fill="none" stroke="#000" stroke-width="0.75"/>
<circle cx="249.60" cy="40.30" r="2.0" fill="none" stroke="#000" stroke-width="0.75"/>
<circle cx="251.65" cy="40.95" r="2.0" fill="none" stroke="#000" stroke-width="0.75"/>
<circle cx="253.70" cy="41.60" r="2.0" fill="none" stroke="#000" stroke-width="0.75"/>
<circle cx="255.80" cy="42.80" r="2.0" fill="none" stroke="#000" stroke-width="0.75"/>
<circle cx="257.90" cy="44.00" r="2.0" fill="none" stroke="#000" stroke-width="0.75"/>
<circle cx="259.60" cy="45.10" r="2.0" fill="none" stroke="#000" stroke-width="0.75"/>
<circle cx="261.30" cy="46.20" r="2.0" fill="none" stroke="#000" stroke-width="0.75"/>
<circle cx="263.00" cy="47.30" r="2.0" fill="none" stroke="#000" stroke-width="0.75"/>
<circle cx="265.05" cy="47.55" r="2.0" fill="none" stroke="#000" stroke-width="0.75"/>
<circle cx="267.10" cy="47.80" r="2.0" fill="none" stroke="#000" stroke-width="0.75"/>
<circle cx="269.15" cy="47.55" r="2.0" fill="none" stroke="#000" stroke-width="0.75"/>
<circle cx="271.20" cy="47.30" r="2.0" fill="none" stroke="#000" stroke-width="0.75"/>
<circle cx="273.50" cy="48.60" r="2.0" fill="none" stroke="#000" stroke-width="0.75"/>
<circle cx="274.60" cy="49.20" r="2.0" fill="none" stroke="#000" stroke-width="0.75"/>
<circle cx="275.00" cy="209.60" r="2.0" fill="none" stroke="#000" stroke-width="0.75"/>
<circle cx="278.00" cy="209.80" r="2.2" fill="#fff" fill-opacity="0.85" stroke="#000" stroke-width="0.85"/>
<circle cx="279.50" cy="210.30" r="2.2" fill="#fff" fill-opacity="0.85" stroke="#000" stroke-width="0.85"/>
<circle cx="281.00" cy="210.80" r="2.2" fill="#fff" fill-opacity="0.85" stroke="#000" stroke-width="0.85"/>
<circle cx="282.50" cy="211.90" r="2.2" fill="#fff" fill-opacity="0.85" stroke="#000" stroke-width="0.85"/>
<circle cx="284.00" cy="213.00" r="2.2" fill="#fff" fill-opacity="0.85" stroke="#000" stroke-width="0.85"/>
<circle cx="285.50" cy="214.65" r="2.2" fill="#fff" fill-opacity="0.85" stroke="#000" stroke-width="0.85"/>
<circle cx="287.00" cy="216.30" r="2.2" fill="#fff" fill-opacity="0.85" stroke="#000" stroke-width="0.85"/>
<circle cx="288.50" cy="218.05" r="2.2" fill="#fff" fill-opacity="0.85" stroke="#000" stroke-width="0.85"/>
<circle cx="290.00" cy="219.80" r="2.2" fill="#fff" fill-opacity="0.85" stroke="#000" stroke-width="0.85"/>
<circle cx="291.50" cy="221.30" r="2.2" fill="#fff" fill-opacity="0.85" stroke="#000" stroke-width="0.85"/>
<circle cx="293.00" cy="222.80" r="2.2" fill="#fff" fill-opacity="0.85" stroke="#000" stroke-width="0.85"/>
<circle cx="294.33" cy="223.97" r="2.2" fill="#fff" fill-opacity="0.85" stroke="#000" stroke-width="0.85"/>
<circle cx="295.67" cy="225.13" r="2.2" fill="#fff" fill-opacity="0.85" stroke="#000" stroke-width="0.85"/>
<circle cx="297.00" cy="226.30" r="2.2" fill="#fff" fill-opacity="0.85" stroke="#000" stroke-width="0.85"/>
<circle cx="298.33" cy="227.17" r="2.2" fill="#fff" fill-opacity="0.85" stroke="#000" stroke-width="0.85"/>
<circle cx="299.67" cy="228.03" r="2.2" fill="#fff" fill-opacity="0.85" stroke="#000" stroke-width="0.85"/>
<circle cx="301.00" cy="228.90" r="2.2" fill="#fff" fill-opacity="0.85" stroke="#000" stroke-width="0.85"/>
<circle cx="302.33" cy="229.53" r="2.2" fill="#fff" fill-opacity="0.85" stroke="#000" stroke-width="0.85"/>
<circle cx="303.67" cy="230.17" r="2.2" fill="#fff" fill-opacity="0.85" stroke="#000" stroke-width="0.85"/>
<circle cx="305.00" cy="230.80" r="2.2" fill="#fff" fill-opacity="0.85" stroke="#000" stroke-width="0.85"/>
<circle cx="306.43" cy="231.09" r="2.2" fill="#fff" fill-opacity="0.85" stroke="#000" stroke-width="0.85"/>
<circle cx="307.86" cy="231.37" r="2.2" fill="#fff" fill-opacity="0.85" stroke="#000" stroke-width="0.85"/>
<circle cx="309.29" cy="231.66" r="2.2" fill="#fff" fill-opacity="0.85" stroke="#000" stroke-width="0.85"/>
<circle cx="310.71" cy="231.94" r="2.2" fill="#fff" fill-opacity="0.85" stroke="#000" stroke-width="0.85"/>
<circle cx="312.14" cy="232.23" r="2.2" fill="#fff" fill-opacity="0.85" stroke="#000" stroke-width="0.85"/>
<circle cx="313.57" cy="232.51" r="2.2" fill="#fff" fill-opacity="0.85" stroke="#000" stroke-width="0.85"/>
<circle cx="315.00" cy="232.80" r="2.2" fill="#fff" fill-opacity="0.85" stroke="#000" stroke-width="0.85"/>
<text x="347.45" y="13.90" font-size="18.2" fill="#000" font-weight="bold" font-style="normal" text-anchor="start" stroke="#000" stroke-width="0" textLength="13.90" lengthAdjust="spacingAndGlyphs">B</text>
<line x1="404.2" y1="6.80" x2="404.2" y2="253.80" stroke="#2a2a2a" stroke-width="1.3"/>
<line x1="404.2" y1="253.30" x2="408.4" y2="253.30" stroke="#000" stroke-width="1.2"/>
<text x="373.85" y="256.80" font-size="12.0" fill="#595959" font-weight="normal" font-style="normal" text-anchor="start" stroke="#595959" stroke-width="0.2" textLength="17.50" lengthAdjust="spacingAndGlyphs">-80</text>
<line x1="404.2" y1="222.55" x2="408.4" y2="222.55" stroke="#000" stroke-width="1.2"/>
<text x="373.85" y="226.05" font-size="12.0" fill="#595959" font-weight="normal" font-style="normal" text-anchor="start" stroke="#595959" stroke-width="0.2" textLength="17.50" lengthAdjust="spacingAndGlyphs">-60</text>
<line x1="404.2" y1="191.80" x2="408.4" y2="191.80" stroke="#000" stroke-width="1.2"/>
<text x="373.85" y="195.30" font-size="12.0" fill="#595959" font-weight="normal" font-style="normal" text-anchor="start" stroke="#595959" stroke-width="0.2" textLength="17.50" lengthAdjust="spacingAndGlyphs">-40</text>
<line x1="404.2" y1="161.05" x2="408.4" y2="161.05" stroke="#000" stroke-width="1.2"/>
<text x="373.85" y="164.55" font-size="12.0" fill="#595959" font-weight="normal" font-style="normal" text-anchor="start" stroke="#595959" stroke-width="0.2" textLength="17.50" lengthAdjust="spacingAndGlyphs">-20</text>
<line x1="404.2" y1="130.30" x2="408.4" y2="130.30" stroke="#000" stroke-width="1.2"/>
<text x="383.65" y="133.80" font-size="12.0" fill="#595959" font-weight="normal" font-style="normal" text-anchor="start" stroke="#595959" stroke-width="0.2" textLength="7.70" lengthAdjust="spacingAndGlyphs">0</text>
<line x1="404.2" y1="99.55" x2="408.4" y2="99.55" stroke="#000" stroke-width="1.2"/>
<text x="378.05" y="103.05" font-size="12.0" fill="#595959" font-weight="normal" font-style="normal" text-anchor="start" stroke="#595959" stroke-width="0.2" textLength="13.30" lengthAdjust="spacingAndGlyphs">20</text>
<line x1="404.2" y1="68.80" x2="408.4" y2="68.80" stroke="#000" stroke-width="1.2"/>
<text x="378.05" y="72.30" font-size="12.0" fill="#595959" font-weight="normal" font-style="normal" text-anchor="start" stroke="#595959" stroke-width="0.2" textLength="13.30" lengthAdjust="spacingAndGlyphs">40</text>
<line x1="404.2" y1="38.05" x2="408.4" y2="38.05" stroke="#000" stroke-width="1.2"/>
<text x="378.05" y="41.55" font-size="12.0" fill="#595959" font-weight="normal" font-style="normal" text-anchor="start" stroke="#595959" stroke-width="0.2" textLength="13.30" lengthAdjust="spacingAndGlyphs">60</text>
<line x1="404.2" y1="7.30" x2="408.4" y2="7.30" stroke="#000" stroke-width="1.2"/>
<text x="378.05" y="10.80" font-size="12.0" fill="#595959" font-weight="normal" font-style="normal" text-anchor="start" stroke="#595959" stroke-width="0.2" textLength="13.30" lengthAdjust="spacingAndGlyphs">80</text>
<g transform="translate(360.6,112.9) rotate(-90)"><text x="-42.0" y="0" font-size="13.0" textLength="83.4" lengthAdjust="spacingAndGlyphs">Δ<tspan font-style="italic">Isc</tspan> (µA/cm<tspan font-size="8.5" dy="-4.5">2</tspan><tspan dy="4.5">)</tspan></text></g>
<line x1="431.50" y1="110.50" x2="431.50" y2="117.40" stroke="#7a7a7a" stroke-width="1"/>
<line x1="429.50" y1="110.50" x2="433.50" y2="110.50" stroke="#7a7a7a" stroke-width="1"/>
<rect x="417.50" y="117.40" width="28.5" height="12.90" fill="#808080"/>
<line x1="460.50" y1="140.10" x2="460.50" y2="141.70" stroke="#7a7a7a" stroke-width="1"/>
<line x1="458.50" y1="141.70" x2="462.50" y2="141.70" stroke="#7a7a7a" stroke-width="1"/>
<rect x="446.10" y="130.30" width="27.1" height="9.80" fill="#fff" stroke="#808080" stroke-width="1"/>
<rect x="445.60" y="131.20" width="28.1" height="2.05" fill="#808080"/>
<rect x="445.60" y="135.10" width="28.1" height="2.05" fill="#808080"/>
<line x1="514.50" y1="97.20" x2="514.50" y2="104.90" stroke="#7a7a7a" stroke-width="1"/>
<line x1="512.50" y1="97.20" x2="516.50" y2="97.20" stroke="#7a7a7a" stroke-width="1"/>
<rect x="500.70" y="104.90" width="28.5" height="25.40" fill="#3db54e"/>
<line x1="543.50" y1="152.50" x2="543.50" y2="153.80" stroke="#7a7a7a" stroke-width="1"/>
<line x1="541.50" y1="153.80" x2="545.50" y2="153.80" stroke="#7a7a7a" stroke-width="1"/>
<rect x="529.30" y="130.30" width="27.1" height="22.20" fill="#fff" stroke="#3db54e" stroke-width="1"/>
<rect x="528.80" y="131.20" width="28.1" height="2.05" fill="#3db54e"/>
<rect x="528.80" y="135.10" width="28.1" height="2.05" fill="#3db54e"/>
<rect x="528.80" y="139.00" width="28.1" height="2.05" fill="#3db54e"/>
<rect x="528.80" y="142.90" width="28.1" height="2.05" fill="#3db54e"/>
<rect x="528.80" y="146.80" width="28.1" height="2.05" fill="#3db54e"/>
<line x1="598.50" y1="64.30" x2="598.50" y2="71.50" stroke="#7a7a7a" stroke-width="1"/>
<line x1="596.50" y1="64.30" x2="600.50" y2="64.30" stroke="#7a7a7a" stroke-width="1"/>
<rect x="583.90" y="71.50" width="28.5" height="58.80" fill="#e2372c"/>
<line x1="626.50" y1="190.40" x2="626.50" y2="194.20" stroke="#7a7a7a" stroke-width="1"/>
<line x1="624.50" y1="194.20" x2="628.50" y2="194.20" stroke="#7a7a7a" stroke-width="1"/>
<rect x="612.50" y="130.30" width="27.1" height="60.10" fill="#fff" stroke="#e2372c" stroke-width="1"/>
<rect x="612.00" y="131.20" width="28.1" height="2.05" fill="#e2372c"/>
<rect x="612.00" y="135.10" width="28.1" height="2.05" fill="#e2372c"/>
<rect x="612.00" y="139.00" width="28.1" height="2.05" fill="#e2372c"/>
<rect x="612.00" y="142.90" width="28.1" height="2.05" fill="#e2372c"/>
<rect x="612.00" y="146.80" width="28.1" height="2.05" fill="#e2372c"/>
<rect x="612.00" y="150.70" width="28.1" height="2.05" fill="#e2372c"/>
<rect x="612.00" y="154.60" width="28.1" height="2.05" fill="#e2372c"/>
<rect x="612.00" y="158.50" width="28.1" height="2.05" fill="#e2372c"/>
<rect x="612.00" y="162.40" width="28.1" height="2.05" fill="#e2372c"/>
<rect x="612.00" y="166.30" width="28.1" height="2.05" fill="#e2372c"/>
<rect x="612.00" y="170.20" width="28.1" height="2.05" fill="#e2372c"/>
<rect x="612.00" y="174.10" width="28.1" height="2.05" fill="#e2372c"/>
<rect x="612.00" y="178.00" width="28.1" height="2.05" fill="#e2372c"/>
<rect x="612.00" y="181.90" width="28.1" height="2.05" fill="#e2372c"/>
<rect x="612.00" y="185.80" width="28.1" height="2.05" fill="#e2372c"/>
<line x1="681.50" y1="27.50" x2="681.50" y2="35.30" stroke="#7a7a7a" stroke-width="1"/>
<line x1="679.50" y1="27.50" x2="683.50" y2="27.50" stroke="#7a7a7a" stroke-width="1"/>
<rect x="667.10" y="35.30" width="28.5" height="95.00" fill="#000"/>
<line x1="709.50" y1="216.00" x2="709.50" y2="227.30" stroke="#7a7a7a" stroke-width="1"/>
<line x1="707.50" y1="227.30" x2="711.50" y2="227.30" stroke="#7a7a7a" stroke-width="1"/>
<rect x="695.70" y="130.30" width="27.1" height="85.70" fill="#fff" stroke="#000" stroke-width="1"/>
<rect x="695.20" y="131.20" width="28.1" height="2.05" fill="#000"/>
<rect x="695.20" y="135.10" width="28.1" height="2.05" fill="#000"/>
<rect x="695.20" y="139.00" width="28.1" height="2.05" fill="#000"/>
<rect x="695.20" y="142.90" width="28.1" height="2.05" fill="#000"/>
<rect x="695.20" y="146.80" width="28.1" height="2.05" fill="#000"/>
<rect x="695.20" y="150.70" width="28.1" height="2.05" fill="#000"/>
<rect x="695.20" y="154.60" width="28.1" height="2.05" fill="#000"/>
<rect x="695.20" y="158.50" width="28.1" height="2.05" fill="#000"/>
<rect x="695.20" y="162.40" width="28.1" height="2.05" fill="#000"/>
<rect x="695.20" y="166.30" width="28.1" height="2.05" fill="#000"/>
<rect x="695.20" y="170.20" width="28.1" height="2.05" fill="#000"/>
<rect x="695.20" y="174.10" width="28.1" height="2.05" fill="#000"/>
<rect x="695.20" y="178.00" width="28.1" height="2.05" fill="#000"/>
<rect x="695.20" y="181.90" width="28.1" height="2.05" fill="#000"/>
<rect x="695.20" y="185.80" width="28.1" height="2.05" fill="#000"/>
<rect x="695.20" y="189.70" width="28.1" height="2.05" fill="#000"/>
<rect x="695.20" y="193.60" width="28.1" height="2.05" fill="#000"/>
<rect x="695.20" y="197.50" width="28.1" height="2.05" fill="#000"/>
<rect x="695.20" y="201.40" width="28.1" height="2.05" fill="#000"/>
<rect x="695.20" y="205.30" width="28.1" height="2.05" fill="#000"/>
<rect x="695.20" y="209.20" width="28.1" height="2.05" fill="#000"/>
<rect x="695.20" y="213.10" width="28.1" height="2.05" fill="#000"/>
<line x1="404.2" y1="130.30" x2="736.8" y2="130.30" stroke="#000" stroke-width="1.3"/>
<rect x="587.6" y="12.5" width="8" height="7.8" fill="#000"/>
<rect x="588.1" y="27.2" width="7" height="6.8" fill="#fff" stroke="#595959" stroke-width="1"/>
<rect x="588.1" y="29.6" width="7" height="1" fill="#595959"/>
<rect x="588.1" y="31.8" width="7" height="1" fill="#595959"/>
<text x="598.45" y="19.60" font-size="11.2" fill="#404040" font-weight="normal" font-style="normal" text-anchor="start" stroke="#404040" stroke-width="0.2" textLength="62.90" lengthAdjust="spacingAndGlyphs">Forsk/IBMX</text>
<text x="598.45" y="33.80" font-size="11.2" fill="#404040" font-weight="normal" font-style="normal" text-anchor="start" stroke="#404040" stroke-width="0.2" textLength="49.50" lengthAdjust="spacingAndGlyphs">GlyH-101</text>
<text x="416.35" y="242.70" font-size="10.0" fill="#000" font-weight="normal" font-style="normal" text-anchor="start" stroke="#000" stroke-width="0.2" textLength="61.90" lengthAdjust="spacingAndGlyphs">Non-infected</text>
<text x="434.60" y="254.50" font-size="10.0" fill="#000" font-weight="normal" font-style="normal" text-anchor="start" stroke="#000" stroke-width="0.2" textLength="25.40" lengthAdjust="spacingAndGlyphs">(n=9)</text>
<text x="428.75" y="281.90" font-size="11.9" fill="#000" font-weight="normal" font-style="normal" text-anchor="start" stroke="#000" stroke-width="0.2" textLength="37.10" lengthAdjust="spacingAndGlyphs">G551D</text>
<text x="497.60" y="230.90" font-size="10.0" fill="#000" font-weight="normal" font-style="normal" text-anchor="start" stroke="#000" stroke-width="0.2" textLength="61.60" lengthAdjust="spacingAndGlyphs">AAV-Infected</text>
<text x="502.85" y="242.70" font-size="10.0" fill="#000" font-weight="normal" font-style="normal" text-anchor="start" stroke="#000" stroke-width="0.2" textLength="51.10" lengthAdjust="spacingAndGlyphs">(Unsorted)</text>
<text x="514.75" y="254.50" font-size="10.0" fill="#000" font-weight="normal" font-style="normal" text-anchor="start" stroke="#000" stroke-width="0.2" textLength="27.30" lengthAdjust="spacingAndGlyphs">(N=9)</text>
<text x="509.85" y="281.90" font-size="11.9" fill="#000" font-weight="normal" font-style="normal" text-anchor="start" stroke="#000" stroke-width="0.2" textLength="37.10" lengthAdjust="spacingAndGlyphs">G551D</text>
<text x="588.65" y="230.90" font-size="10.0" fill="#000" font-weight="normal" font-style="normal" text-anchor="start" stroke="#000" stroke-width="0.2" textLength="61.50" lengthAdjust="spacingAndGlyphs">AAV-Infected</text>
<text x="599.85" y="242.70" font-size="10.0" fill="#000" font-weight="normal" font-style="normal" text-anchor="start" stroke="#000" stroke-width="0.2" textLength="39.10" lengthAdjust="spacingAndGlyphs">(Sorted)</text>
<text x="606.40" y="254.50" font-size="10.0" fill="#000" font-weight="normal" font-style="normal" text-anchor="start" stroke="#000" stroke-width="0.2" textLength="26.00" lengthAdjust="spacingAndGlyphs">(n=9)</text>
<text x="600.50" y="281.90" font-size="11.9" fill="#000" font-weight="normal" font-style="normal" text-anchor="start" stroke="#000" stroke-width="0.2" textLength="37.80" lengthAdjust="spacingAndGlyphs">G551D</text>
<text x="677.40" y="242.70" font-size="10.0" fill="#000" font-weight="normal" font-style="normal" text-anchor="start" stroke="#000" stroke-width="0.2" textLength="61.40" lengthAdjust="spacingAndGlyphs">Non-infected</text>
<text x="691.85" y="254.50" font-size="10.0" fill="#000" font-weight="normal" font-style="normal" text-anchor="start" stroke="#000" stroke-width="0.2" textLength="32.50" lengthAdjust="spacingAndGlyphs">(N=12)</text>
<text x="677.10" y="281.90" font-size="11.9" fill="#000" font-weight="normal" font-style="normal" text-anchor="start" stroke="#000" stroke-width="0.2" textLength="62.00" lengthAdjust="spacingAndGlyphs">Non-CF WT</text>
<text x="369.85" y="275.50" font-size="11.8" fill="#000" font-weight="normal" font-style="normal" text-anchor="start" stroke="#000" stroke-width="0.2" textLength="27.30" lengthAdjust="spacingAndGlyphs">CFTR</text>
<text x="356.95" y="288.20" font-size="11.8" fill="#000" font-weight="normal" font-style="normal" text-anchor="start" stroke="#000" stroke-width="0.2" textLength="52.50" lengthAdjust="spacingAndGlyphs">Genotype</text>
</svg></body></html>
